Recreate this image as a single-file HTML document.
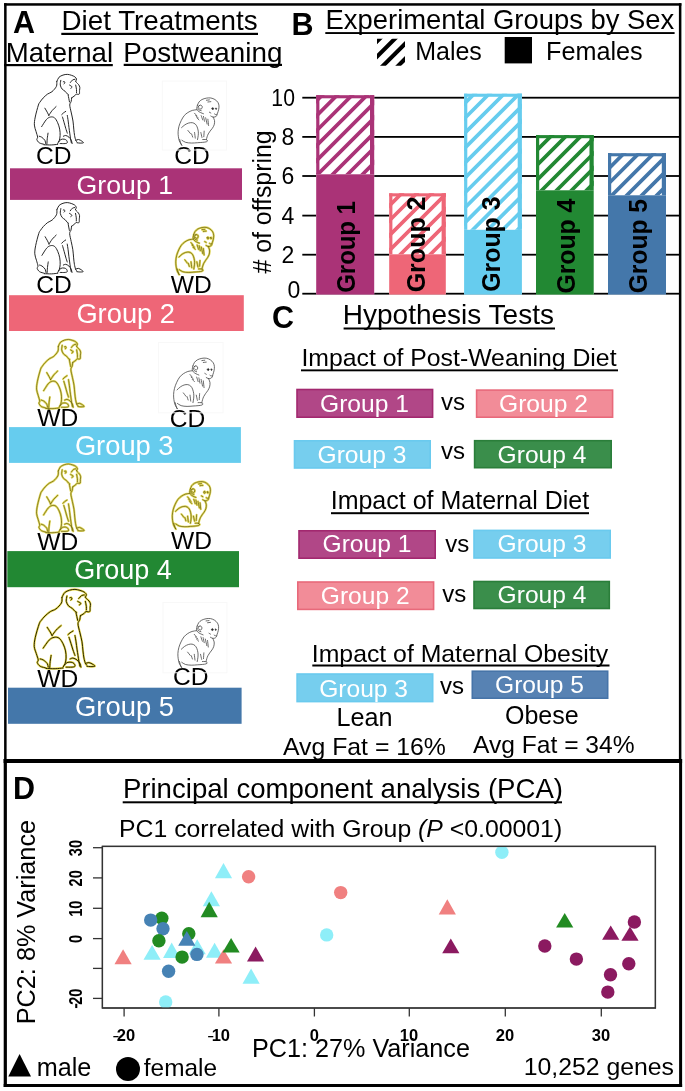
<!DOCTYPE html>
<html><head><meta charset="utf-8"><title>Figure</title><style>
html,body{margin:0;padding:0;background:#fff;}
svg{display:block;}
.mk{stroke:#1a1a1a;stroke-width:0.95;}
.mj{stroke:#3a3a3a;stroke-width:0.75;}
.myh{stroke:#E4DA5E;stroke-width:2.2;}
.my{stroke:#4E4600;stroke-width:0.6;}
.my2h{stroke:#E8DA50;stroke-width:2.2;}
.my2{stroke:#2A2400;stroke-width:1.0;}
</style></head>
<body><svg width="685" height="1091" viewBox="0 0 685 1091" style="will-change:transform">
<rect width="685" height="1091" fill="#fff"/>

<rect x="4.10" y="3.20" width="677.30" height="2.50" fill="#000" />
<rect x="4.10" y="3.20" width="2.50" height="757.80" fill="#000" />
<rect x="678.90" y="3.20" width="2.50" height="757.80" fill="#000" />
<rect x="3.60" y="759.00" width="678.50" height="4.00" fill="#000" />
<rect x="3.70" y="759.00" width="3.20" height="328.00" fill="#000" />
<rect x="679.10" y="759.00" width="3.00" height="328.00" fill="#000" />
<rect x="3.70" y="1084.00" width="678.40" height="3.00" fill="#000" />
<text x="13.00" y="32.50" font-family="Liberation Sans" font-weight="bold" font-style="normal" font-size="30.5" fill="#000" >A</text>
<text x="61.50" y="29.60" font-family="Liberation Sans" font-weight="normal" font-style="normal" font-size="27.8" fill="#000" >Diet Treatments</text>
<rect x="61.30" y="32.80" width="196.70" height="2.20" fill="#000" />
<text x="5.70" y="62.00" font-family="Liberation Sans" font-weight="normal" font-style="normal" font-size="27.6" fill="#000" >Maternal</text>
<rect x="4.10" y="64.00" width="108.70" height="2.20" fill="#000" />
<text x="123.20" y="62.00" font-family="Liberation Sans" font-weight="normal" font-style="normal" font-size="27.8" fill="#000" >Postweaning</text>
<rect x="123.70" y="63.80" width="158.30" height="2.20" fill="#000" />
<text x="36.00" y="163.70" font-family="Liberation Sans" font-weight="normal" font-style="normal" font-size="24.6" fill="#000" >CD</text>
<text x="174.20" y="164.00" font-family="Liberation Sans" font-weight="normal" font-style="normal" font-size="24.6" fill="#000" >CD</text>
<text x="36.20" y="293.00" font-family="Liberation Sans" font-weight="normal" font-style="normal" font-size="24.6" fill="#000" >CD</text>
<text x="170.80" y="292.50" font-family="Liberation Sans" font-weight="normal" font-style="normal" font-size="24.6" fill="#000" >WD</text>
<text x="37.20" y="426.00" font-family="Liberation Sans" font-weight="normal" font-style="normal" font-size="24.6" fill="#000" >WD</text>
<text x="169.80" y="426.50" font-family="Liberation Sans" font-weight="normal" font-style="normal" font-size="24.6" fill="#000" >CD</text>
<text x="37.20" y="550.00" font-family="Liberation Sans" font-weight="normal" font-style="normal" font-size="24.6" fill="#000" >WD</text>
<text x="171.00" y="548.50" font-family="Liberation Sans" font-weight="normal" font-style="normal" font-size="24.6" fill="#000" >WD</text>
<text x="37.20" y="687.00" font-family="Liberation Sans" font-weight="normal" font-style="normal" font-size="24.6" fill="#000" >WD</text>
<text x="173.00" y="685.30" font-family="Liberation Sans" font-weight="normal" font-style="normal" font-size="24.6" fill="#000" >CD</text>
<rect x="10.00" y="168.30" width="232.00" height="31.60" fill="#AA3377" />
<text x="76.60" y="194.20" font-family="Liberation Sans" font-weight="normal" font-style="normal" font-size="26.7" fill="#fff" >Group 1</text>
<rect x="9.00" y="295.20" width="234.80" height="35.80" fill="#EE6677" />
<text x="76.40" y="323.40" font-family="Liberation Sans" font-weight="normal" font-style="normal" font-size="27.3" fill="#fff" >Group 2</text>
<rect x="9.00" y="427.10" width="231.90" height="35.80" fill="#66CCEE" />
<text x="74.90" y="454.90" font-family="Liberation Sans" font-weight="normal" font-style="normal" font-size="27.3" fill="#fff" >Group 3</text>
<rect x="7.30" y="551.10" width="231.70" height="36.10" fill="#228833" />
<text x="74.20" y="579.00" font-family="Liberation Sans" font-weight="normal" font-style="normal" font-size="27.0" fill="#fff" >Group 4</text>
<rect x="8.00" y="687.70" width="233.60" height="36.10" fill="#4477AA" />
<text x="75.00" y="715.50" font-family="Liberation Sans" font-weight="normal" font-style="normal" font-size="27.4" fill="#fff" >Group 5</text>
<rect x="162.3" y="81.1" width="64.29999999999998" height="68.9" fill="none" stroke="#f8f8f8" stroke-width="1"/>
<rect x="158.5" y="342.5" width="64.5" height="70.30000000000001" fill="none" stroke="#f8f8f8" stroke-width="1"/>
<rect x="163" y="602.5" width="63.900000000000006" height="70.29999999999995" fill="none" stroke="#f8f8f8" stroke-width="1"/>
<g transform="translate(30.00,70.00) scale(0.08756,0.08756)" fill="none" stroke-linecap="round" stroke-linejoin="round"><path d="M306.0,132.0C310.2,123.8 319.2,95.3 331.0,83.0C342.8,70.7 361.2,63.5 377.0,58.0C392.8,52.5 410.2,49.7 426.0,50.0C441.8,50.3 457.7,55.3 472.0,60.0C486.3,64.7 502.2,70.8 512.0,78.0C521.8,85.2 529.3,94.7 531.0,103.0C532.7,111.3 523.5,123.8 522.0,128.0M522.0,128.0C523.5,130.5 525.3,136.3 531.0,143.0C536.7,149.7 549.7,158.8 556.0,168.0C562.3,177.2 567.3,187.2 569.0,198.0C570.7,208.8 566.8,220.5 566.0,233.0C565.2,245.5 567.3,265.5 564.0,273.0C560.7,280.5 552.2,277.7 546.0,278.0C539.8,278.3 532.7,272.5 527.0,275.0C521.3,277.5 518.0,287.5 512.0,293.0C506.0,298.5 497.0,303.8 491.0,308.0C485.0,312.2 478.5,316.3 476.0,318.0M352.0,118.0C351.0,127.0 343.5,155.3 346.0,172.0C348.5,188.7 357.8,206.2 367.0,218.0C376.2,229.8 391.2,233.8 401.0,243.0C410.8,252.2 419.3,266.3 426.0,273.0C432.7,279.7 438.5,281.3 441.0,283.0M380.0,135.0C382.0,134.5 389.0,129.8 392.0,132.0C395.0,134.2 398.7,143.7 398.0,148.0C397.3,152.3 389.7,156.3 388.0,158.0M461.0,143.0C465.3,138.0 478.5,119.0 487.0,113.0C495.5,107.0 507.8,108.0 512.0,107.0M451.0,172.0C456.0,175.5 478.5,187.0 481.0,193.0C483.5,199.0 468.5,205.5 466.0,208.0M522.0,172.0C523.5,180.5 529.5,208.7 531.0,223.0C532.5,237.3 531.0,252.2 531.0,258.0M436.0,288.0C438.5,300.8 448.5,352.2 451.0,365.0M306.0,132.0C305.2,141.3 310.2,168.7 301.0,188.0C291.8,207.3 267.8,233.5 251.0,248.0C234.2,262.5 216.8,263.0 200.0,275.0C183.2,287.0 164.2,305.0 150.0,320.0C135.8,335.0 124.0,351.7 115.0,365.0C106.0,378.3 105.2,371.3 96.0,400.0C86.8,428.7 67.7,498.8 60.0,537.0C52.3,575.2 48.5,601.5 50.0,629.0C51.5,656.5 62.8,679.0 69.0,702.0C75.2,725.0 85.5,751.7 87.0,767.0C88.5,782.3 75.0,783.3 78.0,794.0C81.0,804.7 91.3,821.8 105.0,831.0C118.7,840.2 150.8,846.0 160.0,849.0M105.0,757.0C109.7,758.7 122.2,759.3 133.0,767.0C143.8,774.7 162.3,790.8 170.0,803.0C177.7,815.2 177.5,833.8 179.0,840.0M133.0,647.0C142.2,633.3 171.2,583.3 188.0,565.0C204.8,546.7 218.7,540.2 234.0,537.0C249.3,533.8 266.3,535.2 280.0,546.0C293.7,556.8 306.2,580.5 316.0,602.0C325.8,623.5 334.3,650.7 339.0,675.0C343.7,699.3 344.7,726.7 344.0,748.0C343.3,769.3 339.7,787.7 335.0,803.0C330.3,818.3 319.2,833.8 316.0,840.0M206.0,721.0C204.5,731.7 199.2,763.7 197.0,785.0C194.8,806.3 193.7,838.3 193.0,849.0M160.0,854.0C173.8,854.3 217.0,856.8 243.0,856.0C269.0,855.2 303.8,850.2 316.0,849.0M326.0,822.0C330.5,817.3 342.3,799.3 353.0,794.0C363.7,788.7 379.3,788.5 390.0,790.0C400.7,791.5 411.0,796.2 417.0,803.0C423.0,809.8 429.0,824.8 426.0,831.0C423.0,837.2 412.7,838.5 399.0,840.0C385.3,841.5 353.2,840.0 344.0,840.0M381.0,757.0C385.5,755.5 397.3,746.3 408.0,748.0C418.7,749.7 434.3,757.8 445.0,767.0C455.7,776.2 466.0,790.8 472.0,803.0C478.0,815.2 479.5,833.8 481.0,840.0M476.0,318.0C475.0,325.0 473.7,346.3 470.0,360.0C466.3,373.7 453.7,378.2 454.0,400.0C454.3,421.8 465.8,460.5 472.0,491.0C478.2,521.5 486.3,552.3 491.0,583.0C495.7,613.7 497.0,647.5 500.0,675.0C503.0,702.5 505.2,726.7 509.0,748.0C512.8,769.3 518.3,790.7 523.0,803.0C527.7,815.3 534.7,818.8 537.0,822.0M523.0,803.0C528.3,801.5 543.5,792.5 555.0,794.0C566.5,795.5 582.8,805.8 592.0,812.0C601.2,818.2 613.2,827.2 610.0,831.0C606.8,834.8 585.2,835.0 573.0,835.0C560.8,835.0 543.0,831.7 537.0,831.0M426.0,519.0C427.7,529.7 432.8,560.0 436.0,583.0C439.2,606.0 442.0,634.0 445.0,657.0C448.0,680.0 451.0,699.7 454.0,721.0C457.0,742.3 460.0,766.7 463.0,785.0C466.0,803.3 470.5,823.3 472.0,831.0M362.0,510.0C365.2,506.8 373.3,497.2 381.0,491.0C388.7,484.8 403.5,476.0 408.0,473.0M371.0,537.0C374.2,547.8 383.8,580.5 390.0,602.0C396.2,623.5 402.0,646.2 408.0,666.0C414.0,685.8 423.0,711.8 426.0,721.0M170.0,436.0C174.5,443.7 189.5,468.2 197.0,482.0C204.5,495.8 212.0,512.8 215.0,519.0M215.0,519.0C221.2,509.8 238.2,480.8 252.0,464.0C265.8,447.2 290.3,425.7 298.0,418.0" class="mk" vector-effect="non-scaling-stroke"/></g>
<g transform="translate(30.47,198.16) scale(0.08630,0.08844)" fill="none" stroke-linecap="round" stroke-linejoin="round"><path d="M306.0,132.0C310.2,123.8 319.2,95.3 331.0,83.0C342.8,70.7 361.2,63.5 377.0,58.0C392.8,52.5 410.2,49.7 426.0,50.0C441.8,50.3 457.7,55.3 472.0,60.0C486.3,64.7 502.2,70.8 512.0,78.0C521.8,85.2 529.3,94.7 531.0,103.0C532.7,111.3 523.5,123.8 522.0,128.0M522.0,128.0C523.5,130.5 525.3,136.3 531.0,143.0C536.7,149.7 549.7,158.8 556.0,168.0C562.3,177.2 567.3,187.2 569.0,198.0C570.7,208.8 566.8,220.5 566.0,233.0C565.2,245.5 567.3,265.5 564.0,273.0C560.7,280.5 552.2,277.7 546.0,278.0C539.8,278.3 532.7,272.5 527.0,275.0C521.3,277.5 518.0,287.5 512.0,293.0C506.0,298.5 497.0,303.8 491.0,308.0C485.0,312.2 478.5,316.3 476.0,318.0M352.0,118.0C351.0,127.0 343.5,155.3 346.0,172.0C348.5,188.7 357.8,206.2 367.0,218.0C376.2,229.8 391.2,233.8 401.0,243.0C410.8,252.2 419.3,266.3 426.0,273.0C432.7,279.7 438.5,281.3 441.0,283.0M380.0,135.0C382.0,134.5 389.0,129.8 392.0,132.0C395.0,134.2 398.7,143.7 398.0,148.0C397.3,152.3 389.7,156.3 388.0,158.0M461.0,143.0C465.3,138.0 478.5,119.0 487.0,113.0C495.5,107.0 507.8,108.0 512.0,107.0M451.0,172.0C456.0,175.5 478.5,187.0 481.0,193.0C483.5,199.0 468.5,205.5 466.0,208.0M522.0,172.0C523.5,180.5 529.5,208.7 531.0,223.0C532.5,237.3 531.0,252.2 531.0,258.0M436.0,288.0C438.5,300.8 448.5,352.2 451.0,365.0M306.0,132.0C305.2,141.3 310.2,168.7 301.0,188.0C291.8,207.3 267.8,233.5 251.0,248.0C234.2,262.5 216.8,263.0 200.0,275.0C183.2,287.0 164.2,305.0 150.0,320.0C135.8,335.0 124.0,351.7 115.0,365.0C106.0,378.3 105.2,371.3 96.0,400.0C86.8,428.7 67.7,498.8 60.0,537.0C52.3,575.2 48.5,601.5 50.0,629.0C51.5,656.5 62.8,679.0 69.0,702.0C75.2,725.0 85.5,751.7 87.0,767.0C88.5,782.3 75.0,783.3 78.0,794.0C81.0,804.7 91.3,821.8 105.0,831.0C118.7,840.2 150.8,846.0 160.0,849.0M105.0,757.0C109.7,758.7 122.2,759.3 133.0,767.0C143.8,774.7 162.3,790.8 170.0,803.0C177.7,815.2 177.5,833.8 179.0,840.0M133.0,647.0C142.2,633.3 171.2,583.3 188.0,565.0C204.8,546.7 218.7,540.2 234.0,537.0C249.3,533.8 266.3,535.2 280.0,546.0C293.7,556.8 306.2,580.5 316.0,602.0C325.8,623.5 334.3,650.7 339.0,675.0C343.7,699.3 344.7,726.7 344.0,748.0C343.3,769.3 339.7,787.7 335.0,803.0C330.3,818.3 319.2,833.8 316.0,840.0M206.0,721.0C204.5,731.7 199.2,763.7 197.0,785.0C194.8,806.3 193.7,838.3 193.0,849.0M160.0,854.0C173.8,854.3 217.0,856.8 243.0,856.0C269.0,855.2 303.8,850.2 316.0,849.0M326.0,822.0C330.5,817.3 342.3,799.3 353.0,794.0C363.7,788.7 379.3,788.5 390.0,790.0C400.7,791.5 411.0,796.2 417.0,803.0C423.0,809.8 429.0,824.8 426.0,831.0C423.0,837.2 412.7,838.5 399.0,840.0C385.3,841.5 353.2,840.0 344.0,840.0M381.0,757.0C385.5,755.5 397.3,746.3 408.0,748.0C418.7,749.7 434.3,757.8 445.0,767.0C455.7,776.2 466.0,790.8 472.0,803.0C478.0,815.2 479.5,833.8 481.0,840.0M476.0,318.0C475.0,325.0 473.7,346.3 470.0,360.0C466.3,373.7 453.7,378.2 454.0,400.0C454.3,421.8 465.8,460.5 472.0,491.0C478.2,521.5 486.3,552.3 491.0,583.0C495.7,613.7 497.0,647.5 500.0,675.0C503.0,702.5 505.2,726.7 509.0,748.0C512.8,769.3 518.3,790.7 523.0,803.0C527.7,815.3 534.7,818.8 537.0,822.0M523.0,803.0C528.3,801.5 543.5,792.5 555.0,794.0C566.5,795.5 582.8,805.8 592.0,812.0C601.2,818.2 613.2,827.2 610.0,831.0C606.8,834.8 585.2,835.0 573.0,835.0C560.8,835.0 543.0,831.7 537.0,831.0M426.0,519.0C427.7,529.7 432.8,560.0 436.0,583.0C439.2,606.0 442.0,634.0 445.0,657.0C448.0,680.0 451.0,699.7 454.0,721.0C457.0,742.3 460.0,766.7 463.0,785.0C466.0,803.3 470.5,823.3 472.0,831.0M362.0,510.0C365.2,506.8 373.3,497.2 381.0,491.0C388.7,484.8 403.5,476.0 408.0,473.0M371.0,537.0C374.2,547.8 383.8,580.5 390.0,602.0C396.2,623.5 402.0,646.2 408.0,666.0C414.0,685.8 423.0,711.8 426.0,721.0M170.0,436.0C174.5,443.7 189.5,468.2 197.0,482.0C204.5,495.8 212.0,512.8 215.0,519.0M215.0,519.0C221.2,509.8 238.2,480.8 252.0,464.0C265.8,447.2 290.3,425.7 298.0,418.0" class="mk" vector-effect="non-scaling-stroke"/></g>
<g transform="translate(32.34,335.19) scale(0.08487,0.08579)" fill="none" stroke-linecap="round" stroke-linejoin="round"><path d="M306.0,132.0C310.2,123.8 319.2,95.3 331.0,83.0C342.8,70.7 361.2,63.5 377.0,58.0C392.8,52.5 410.2,49.7 426.0,50.0C441.8,50.3 457.7,55.3 472.0,60.0C486.3,64.7 502.2,70.8 512.0,78.0C521.8,85.2 529.3,94.7 531.0,103.0C532.7,111.3 523.5,123.8 522.0,128.0M522.0,128.0C523.5,130.5 525.3,136.3 531.0,143.0C536.7,149.7 549.7,158.8 556.0,168.0C562.3,177.2 567.3,187.2 569.0,198.0C570.7,208.8 566.8,220.5 566.0,233.0C565.2,245.5 567.3,265.5 564.0,273.0C560.7,280.5 552.2,277.7 546.0,278.0C539.8,278.3 532.7,272.5 527.0,275.0C521.3,277.5 518.0,287.5 512.0,293.0C506.0,298.5 497.0,303.8 491.0,308.0C485.0,312.2 478.5,316.3 476.0,318.0M352.0,118.0C351.0,127.0 343.5,155.3 346.0,172.0C348.5,188.7 357.8,206.2 367.0,218.0C376.2,229.8 391.2,233.8 401.0,243.0C410.8,252.2 419.3,266.3 426.0,273.0C432.7,279.7 438.5,281.3 441.0,283.0M380.0,135.0C382.0,134.5 389.0,129.8 392.0,132.0C395.0,134.2 398.7,143.7 398.0,148.0C397.3,152.3 389.7,156.3 388.0,158.0M461.0,143.0C465.3,138.0 478.5,119.0 487.0,113.0C495.5,107.0 507.8,108.0 512.0,107.0M451.0,172.0C456.0,175.5 478.5,187.0 481.0,193.0C483.5,199.0 468.5,205.5 466.0,208.0M522.0,172.0C523.5,180.5 529.5,208.7 531.0,223.0C532.5,237.3 531.0,252.2 531.0,258.0M436.0,288.0C438.5,300.8 448.5,352.2 451.0,365.0M306.0,132.0C305.2,141.3 310.2,168.7 301.0,188.0C291.8,207.3 267.8,233.5 251.0,248.0C234.2,262.5 216.8,263.0 200.0,275.0C183.2,287.0 164.2,305.0 150.0,320.0C135.8,335.0 124.0,351.7 115.0,365.0C106.0,378.3 105.2,371.3 96.0,400.0C86.8,428.7 67.7,498.8 60.0,537.0C52.3,575.2 48.5,601.5 50.0,629.0C51.5,656.5 62.8,679.0 69.0,702.0C75.2,725.0 85.5,751.7 87.0,767.0C88.5,782.3 75.0,783.3 78.0,794.0C81.0,804.7 91.3,821.8 105.0,831.0C118.7,840.2 150.8,846.0 160.0,849.0M105.0,757.0C109.7,758.7 122.2,759.3 133.0,767.0C143.8,774.7 162.3,790.8 170.0,803.0C177.7,815.2 177.5,833.8 179.0,840.0M133.0,647.0C142.2,633.3 171.2,583.3 188.0,565.0C204.8,546.7 218.7,540.2 234.0,537.0C249.3,533.8 266.3,535.2 280.0,546.0C293.7,556.8 306.2,580.5 316.0,602.0C325.8,623.5 334.3,650.7 339.0,675.0C343.7,699.3 344.7,726.7 344.0,748.0C343.3,769.3 339.7,787.7 335.0,803.0C330.3,818.3 319.2,833.8 316.0,840.0M206.0,721.0C204.5,731.7 199.2,763.7 197.0,785.0C194.8,806.3 193.7,838.3 193.0,849.0M160.0,854.0C173.8,854.3 217.0,856.8 243.0,856.0C269.0,855.2 303.8,850.2 316.0,849.0M326.0,822.0C330.5,817.3 342.3,799.3 353.0,794.0C363.7,788.7 379.3,788.5 390.0,790.0C400.7,791.5 411.0,796.2 417.0,803.0C423.0,809.8 429.0,824.8 426.0,831.0C423.0,837.2 412.7,838.5 399.0,840.0C385.3,841.5 353.2,840.0 344.0,840.0M381.0,757.0C385.5,755.5 397.3,746.3 408.0,748.0C418.7,749.7 434.3,757.8 445.0,767.0C455.7,776.2 466.0,790.8 472.0,803.0C478.0,815.2 479.5,833.8 481.0,840.0M476.0,318.0C475.0,325.0 473.7,346.3 470.0,360.0C466.3,373.7 453.7,378.2 454.0,400.0C454.3,421.8 465.8,460.5 472.0,491.0C478.2,521.5 486.3,552.3 491.0,583.0C495.7,613.7 497.0,647.5 500.0,675.0C503.0,702.5 505.2,726.7 509.0,748.0C512.8,769.3 518.3,790.7 523.0,803.0C527.7,815.3 534.7,818.8 537.0,822.0M523.0,803.0C528.3,801.5 543.5,792.5 555.0,794.0C566.5,795.5 582.8,805.8 592.0,812.0C601.2,818.2 613.2,827.2 610.0,831.0C606.8,834.8 585.2,835.0 573.0,835.0C560.8,835.0 543.0,831.7 537.0,831.0M426.0,519.0C427.7,529.7 432.8,560.0 436.0,583.0C439.2,606.0 442.0,634.0 445.0,657.0C448.0,680.0 451.0,699.7 454.0,721.0C457.0,742.3 460.0,766.7 463.0,785.0C466.0,803.3 470.5,823.3 472.0,831.0M362.0,510.0C365.2,506.8 373.3,497.2 381.0,491.0C388.7,484.8 403.5,476.0 408.0,473.0M371.0,537.0C374.2,547.8 383.8,580.5 390.0,602.0C396.2,623.5 402.0,646.2 408.0,666.0C414.0,685.8 423.0,711.8 426.0,721.0M170.0,436.0C174.5,443.7 189.5,468.2 197.0,482.0C204.5,495.8 212.0,512.8 215.0,519.0M215.0,519.0C221.2,509.8 238.2,480.8 252.0,464.0C265.8,447.2 290.3,425.7 298.0,418.0" class="myh" vector-effect="non-scaling-stroke"/><path d="M306.0,132.0C310.2,123.8 319.2,95.3 331.0,83.0C342.8,70.7 361.2,63.5 377.0,58.0C392.8,52.5 410.2,49.7 426.0,50.0C441.8,50.3 457.7,55.3 472.0,60.0C486.3,64.7 502.2,70.8 512.0,78.0C521.8,85.2 529.3,94.7 531.0,103.0C532.7,111.3 523.5,123.8 522.0,128.0M522.0,128.0C523.5,130.5 525.3,136.3 531.0,143.0C536.7,149.7 549.7,158.8 556.0,168.0C562.3,177.2 567.3,187.2 569.0,198.0C570.7,208.8 566.8,220.5 566.0,233.0C565.2,245.5 567.3,265.5 564.0,273.0C560.7,280.5 552.2,277.7 546.0,278.0C539.8,278.3 532.7,272.5 527.0,275.0C521.3,277.5 518.0,287.5 512.0,293.0C506.0,298.5 497.0,303.8 491.0,308.0C485.0,312.2 478.5,316.3 476.0,318.0M352.0,118.0C351.0,127.0 343.5,155.3 346.0,172.0C348.5,188.7 357.8,206.2 367.0,218.0C376.2,229.8 391.2,233.8 401.0,243.0C410.8,252.2 419.3,266.3 426.0,273.0C432.7,279.7 438.5,281.3 441.0,283.0M380.0,135.0C382.0,134.5 389.0,129.8 392.0,132.0C395.0,134.2 398.7,143.7 398.0,148.0C397.3,152.3 389.7,156.3 388.0,158.0M461.0,143.0C465.3,138.0 478.5,119.0 487.0,113.0C495.5,107.0 507.8,108.0 512.0,107.0M451.0,172.0C456.0,175.5 478.5,187.0 481.0,193.0C483.5,199.0 468.5,205.5 466.0,208.0M522.0,172.0C523.5,180.5 529.5,208.7 531.0,223.0C532.5,237.3 531.0,252.2 531.0,258.0M436.0,288.0C438.5,300.8 448.5,352.2 451.0,365.0M306.0,132.0C305.2,141.3 310.2,168.7 301.0,188.0C291.8,207.3 267.8,233.5 251.0,248.0C234.2,262.5 216.8,263.0 200.0,275.0C183.2,287.0 164.2,305.0 150.0,320.0C135.8,335.0 124.0,351.7 115.0,365.0C106.0,378.3 105.2,371.3 96.0,400.0C86.8,428.7 67.7,498.8 60.0,537.0C52.3,575.2 48.5,601.5 50.0,629.0C51.5,656.5 62.8,679.0 69.0,702.0C75.2,725.0 85.5,751.7 87.0,767.0C88.5,782.3 75.0,783.3 78.0,794.0C81.0,804.7 91.3,821.8 105.0,831.0C118.7,840.2 150.8,846.0 160.0,849.0M105.0,757.0C109.7,758.7 122.2,759.3 133.0,767.0C143.8,774.7 162.3,790.8 170.0,803.0C177.7,815.2 177.5,833.8 179.0,840.0M133.0,647.0C142.2,633.3 171.2,583.3 188.0,565.0C204.8,546.7 218.7,540.2 234.0,537.0C249.3,533.8 266.3,535.2 280.0,546.0C293.7,556.8 306.2,580.5 316.0,602.0C325.8,623.5 334.3,650.7 339.0,675.0C343.7,699.3 344.7,726.7 344.0,748.0C343.3,769.3 339.7,787.7 335.0,803.0C330.3,818.3 319.2,833.8 316.0,840.0M206.0,721.0C204.5,731.7 199.2,763.7 197.0,785.0C194.8,806.3 193.7,838.3 193.0,849.0M160.0,854.0C173.8,854.3 217.0,856.8 243.0,856.0C269.0,855.2 303.8,850.2 316.0,849.0M326.0,822.0C330.5,817.3 342.3,799.3 353.0,794.0C363.7,788.7 379.3,788.5 390.0,790.0C400.7,791.5 411.0,796.2 417.0,803.0C423.0,809.8 429.0,824.8 426.0,831.0C423.0,837.2 412.7,838.5 399.0,840.0C385.3,841.5 353.2,840.0 344.0,840.0M381.0,757.0C385.5,755.5 397.3,746.3 408.0,748.0C418.7,749.7 434.3,757.8 445.0,767.0C455.7,776.2 466.0,790.8 472.0,803.0C478.0,815.2 479.5,833.8 481.0,840.0M476.0,318.0C475.0,325.0 473.7,346.3 470.0,360.0C466.3,373.7 453.7,378.2 454.0,400.0C454.3,421.8 465.8,460.5 472.0,491.0C478.2,521.5 486.3,552.3 491.0,583.0C495.7,613.7 497.0,647.5 500.0,675.0C503.0,702.5 505.2,726.7 509.0,748.0C512.8,769.3 518.3,790.7 523.0,803.0C527.7,815.3 534.7,818.8 537.0,822.0M523.0,803.0C528.3,801.5 543.5,792.5 555.0,794.0C566.5,795.5 582.8,805.8 592.0,812.0C601.2,818.2 613.2,827.2 610.0,831.0C606.8,834.8 585.2,835.0 573.0,835.0C560.8,835.0 543.0,831.7 537.0,831.0M426.0,519.0C427.7,529.7 432.8,560.0 436.0,583.0C439.2,606.0 442.0,634.0 445.0,657.0C448.0,680.0 451.0,699.7 454.0,721.0C457.0,742.3 460.0,766.7 463.0,785.0C466.0,803.3 470.5,823.3 472.0,831.0M362.0,510.0C365.2,506.8 373.3,497.2 381.0,491.0C388.7,484.8 403.5,476.0 408.0,473.0M371.0,537.0C374.2,547.8 383.8,580.5 390.0,602.0C396.2,623.5 402.0,646.2 408.0,666.0C414.0,685.8 423.0,711.8 426.0,721.0M170.0,436.0C174.5,443.7 189.5,468.2 197.0,482.0C204.5,495.8 212.0,512.8 215.0,519.0M215.0,519.0C221.2,509.8 238.2,480.8 252.0,464.0C265.8,447.2 290.3,425.7 298.0,418.0" class="my" vector-effect="non-scaling-stroke"/></g>
<g transform="translate(32.34,459.72) scale(0.08487,0.08528)" fill="none" stroke-linecap="round" stroke-linejoin="round"><path d="M306.0,132.0C310.2,123.8 319.2,95.3 331.0,83.0C342.8,70.7 361.2,63.5 377.0,58.0C392.8,52.5 410.2,49.7 426.0,50.0C441.8,50.3 457.7,55.3 472.0,60.0C486.3,64.7 502.2,70.8 512.0,78.0C521.8,85.2 529.3,94.7 531.0,103.0C532.7,111.3 523.5,123.8 522.0,128.0M522.0,128.0C523.5,130.5 525.3,136.3 531.0,143.0C536.7,149.7 549.7,158.8 556.0,168.0C562.3,177.2 567.3,187.2 569.0,198.0C570.7,208.8 566.8,220.5 566.0,233.0C565.2,245.5 567.3,265.5 564.0,273.0C560.7,280.5 552.2,277.7 546.0,278.0C539.8,278.3 532.7,272.5 527.0,275.0C521.3,277.5 518.0,287.5 512.0,293.0C506.0,298.5 497.0,303.8 491.0,308.0C485.0,312.2 478.5,316.3 476.0,318.0M352.0,118.0C351.0,127.0 343.5,155.3 346.0,172.0C348.5,188.7 357.8,206.2 367.0,218.0C376.2,229.8 391.2,233.8 401.0,243.0C410.8,252.2 419.3,266.3 426.0,273.0C432.7,279.7 438.5,281.3 441.0,283.0M380.0,135.0C382.0,134.5 389.0,129.8 392.0,132.0C395.0,134.2 398.7,143.7 398.0,148.0C397.3,152.3 389.7,156.3 388.0,158.0M461.0,143.0C465.3,138.0 478.5,119.0 487.0,113.0C495.5,107.0 507.8,108.0 512.0,107.0M451.0,172.0C456.0,175.5 478.5,187.0 481.0,193.0C483.5,199.0 468.5,205.5 466.0,208.0M522.0,172.0C523.5,180.5 529.5,208.7 531.0,223.0C532.5,237.3 531.0,252.2 531.0,258.0M436.0,288.0C438.5,300.8 448.5,352.2 451.0,365.0M306.0,132.0C305.2,141.3 310.2,168.7 301.0,188.0C291.8,207.3 267.8,233.5 251.0,248.0C234.2,262.5 216.8,263.0 200.0,275.0C183.2,287.0 164.2,305.0 150.0,320.0C135.8,335.0 124.0,351.7 115.0,365.0C106.0,378.3 105.2,371.3 96.0,400.0C86.8,428.7 67.7,498.8 60.0,537.0C52.3,575.2 48.5,601.5 50.0,629.0C51.5,656.5 62.8,679.0 69.0,702.0C75.2,725.0 85.5,751.7 87.0,767.0C88.5,782.3 75.0,783.3 78.0,794.0C81.0,804.7 91.3,821.8 105.0,831.0C118.7,840.2 150.8,846.0 160.0,849.0M105.0,757.0C109.7,758.7 122.2,759.3 133.0,767.0C143.8,774.7 162.3,790.8 170.0,803.0C177.7,815.2 177.5,833.8 179.0,840.0M133.0,647.0C142.2,633.3 171.2,583.3 188.0,565.0C204.8,546.7 218.7,540.2 234.0,537.0C249.3,533.8 266.3,535.2 280.0,546.0C293.7,556.8 306.2,580.5 316.0,602.0C325.8,623.5 334.3,650.7 339.0,675.0C343.7,699.3 344.7,726.7 344.0,748.0C343.3,769.3 339.7,787.7 335.0,803.0C330.3,818.3 319.2,833.8 316.0,840.0M206.0,721.0C204.5,731.7 199.2,763.7 197.0,785.0C194.8,806.3 193.7,838.3 193.0,849.0M160.0,854.0C173.8,854.3 217.0,856.8 243.0,856.0C269.0,855.2 303.8,850.2 316.0,849.0M326.0,822.0C330.5,817.3 342.3,799.3 353.0,794.0C363.7,788.7 379.3,788.5 390.0,790.0C400.7,791.5 411.0,796.2 417.0,803.0C423.0,809.8 429.0,824.8 426.0,831.0C423.0,837.2 412.7,838.5 399.0,840.0C385.3,841.5 353.2,840.0 344.0,840.0M381.0,757.0C385.5,755.5 397.3,746.3 408.0,748.0C418.7,749.7 434.3,757.8 445.0,767.0C455.7,776.2 466.0,790.8 472.0,803.0C478.0,815.2 479.5,833.8 481.0,840.0M476.0,318.0C475.0,325.0 473.7,346.3 470.0,360.0C466.3,373.7 453.7,378.2 454.0,400.0C454.3,421.8 465.8,460.5 472.0,491.0C478.2,521.5 486.3,552.3 491.0,583.0C495.7,613.7 497.0,647.5 500.0,675.0C503.0,702.5 505.2,726.7 509.0,748.0C512.8,769.3 518.3,790.7 523.0,803.0C527.7,815.3 534.7,818.8 537.0,822.0M523.0,803.0C528.3,801.5 543.5,792.5 555.0,794.0C566.5,795.5 582.8,805.8 592.0,812.0C601.2,818.2 613.2,827.2 610.0,831.0C606.8,834.8 585.2,835.0 573.0,835.0C560.8,835.0 543.0,831.7 537.0,831.0M426.0,519.0C427.7,529.7 432.8,560.0 436.0,583.0C439.2,606.0 442.0,634.0 445.0,657.0C448.0,680.0 451.0,699.7 454.0,721.0C457.0,742.3 460.0,766.7 463.0,785.0C466.0,803.3 470.5,823.3 472.0,831.0M362.0,510.0C365.2,506.8 373.3,497.2 381.0,491.0C388.7,484.8 403.5,476.0 408.0,473.0M371.0,537.0C374.2,547.8 383.8,580.5 390.0,602.0C396.2,623.5 402.0,646.2 408.0,666.0C414.0,685.8 423.0,711.8 426.0,721.0M170.0,436.0C174.5,443.7 189.5,468.2 197.0,482.0C204.5,495.8 212.0,512.8 215.0,519.0M215.0,519.0C221.2,509.8 238.2,480.8 252.0,464.0C265.8,447.2 290.3,425.7 298.0,418.0" class="myh" vector-effect="non-scaling-stroke"/><path d="M306.0,132.0C310.2,123.8 319.2,95.3 331.0,83.0C342.8,70.7 361.2,63.5 377.0,58.0C392.8,52.5 410.2,49.7 426.0,50.0C441.8,50.3 457.7,55.3 472.0,60.0C486.3,64.7 502.2,70.8 512.0,78.0C521.8,85.2 529.3,94.7 531.0,103.0C532.7,111.3 523.5,123.8 522.0,128.0M522.0,128.0C523.5,130.5 525.3,136.3 531.0,143.0C536.7,149.7 549.7,158.8 556.0,168.0C562.3,177.2 567.3,187.2 569.0,198.0C570.7,208.8 566.8,220.5 566.0,233.0C565.2,245.5 567.3,265.5 564.0,273.0C560.7,280.5 552.2,277.7 546.0,278.0C539.8,278.3 532.7,272.5 527.0,275.0C521.3,277.5 518.0,287.5 512.0,293.0C506.0,298.5 497.0,303.8 491.0,308.0C485.0,312.2 478.5,316.3 476.0,318.0M352.0,118.0C351.0,127.0 343.5,155.3 346.0,172.0C348.5,188.7 357.8,206.2 367.0,218.0C376.2,229.8 391.2,233.8 401.0,243.0C410.8,252.2 419.3,266.3 426.0,273.0C432.7,279.7 438.5,281.3 441.0,283.0M380.0,135.0C382.0,134.5 389.0,129.8 392.0,132.0C395.0,134.2 398.7,143.7 398.0,148.0C397.3,152.3 389.7,156.3 388.0,158.0M461.0,143.0C465.3,138.0 478.5,119.0 487.0,113.0C495.5,107.0 507.8,108.0 512.0,107.0M451.0,172.0C456.0,175.5 478.5,187.0 481.0,193.0C483.5,199.0 468.5,205.5 466.0,208.0M522.0,172.0C523.5,180.5 529.5,208.7 531.0,223.0C532.5,237.3 531.0,252.2 531.0,258.0M436.0,288.0C438.5,300.8 448.5,352.2 451.0,365.0M306.0,132.0C305.2,141.3 310.2,168.7 301.0,188.0C291.8,207.3 267.8,233.5 251.0,248.0C234.2,262.5 216.8,263.0 200.0,275.0C183.2,287.0 164.2,305.0 150.0,320.0C135.8,335.0 124.0,351.7 115.0,365.0C106.0,378.3 105.2,371.3 96.0,400.0C86.8,428.7 67.7,498.8 60.0,537.0C52.3,575.2 48.5,601.5 50.0,629.0C51.5,656.5 62.8,679.0 69.0,702.0C75.2,725.0 85.5,751.7 87.0,767.0C88.5,782.3 75.0,783.3 78.0,794.0C81.0,804.7 91.3,821.8 105.0,831.0C118.7,840.2 150.8,846.0 160.0,849.0M105.0,757.0C109.7,758.7 122.2,759.3 133.0,767.0C143.8,774.7 162.3,790.8 170.0,803.0C177.7,815.2 177.5,833.8 179.0,840.0M133.0,647.0C142.2,633.3 171.2,583.3 188.0,565.0C204.8,546.7 218.7,540.2 234.0,537.0C249.3,533.8 266.3,535.2 280.0,546.0C293.7,556.8 306.2,580.5 316.0,602.0C325.8,623.5 334.3,650.7 339.0,675.0C343.7,699.3 344.7,726.7 344.0,748.0C343.3,769.3 339.7,787.7 335.0,803.0C330.3,818.3 319.2,833.8 316.0,840.0M206.0,721.0C204.5,731.7 199.2,763.7 197.0,785.0C194.8,806.3 193.7,838.3 193.0,849.0M160.0,854.0C173.8,854.3 217.0,856.8 243.0,856.0C269.0,855.2 303.8,850.2 316.0,849.0M326.0,822.0C330.5,817.3 342.3,799.3 353.0,794.0C363.7,788.7 379.3,788.5 390.0,790.0C400.7,791.5 411.0,796.2 417.0,803.0C423.0,809.8 429.0,824.8 426.0,831.0C423.0,837.2 412.7,838.5 399.0,840.0C385.3,841.5 353.2,840.0 344.0,840.0M381.0,757.0C385.5,755.5 397.3,746.3 408.0,748.0C418.7,749.7 434.3,757.8 445.0,767.0C455.7,776.2 466.0,790.8 472.0,803.0C478.0,815.2 479.5,833.8 481.0,840.0M476.0,318.0C475.0,325.0 473.7,346.3 470.0,360.0C466.3,373.7 453.7,378.2 454.0,400.0C454.3,421.8 465.8,460.5 472.0,491.0C478.2,521.5 486.3,552.3 491.0,583.0C495.7,613.7 497.0,647.5 500.0,675.0C503.0,702.5 505.2,726.7 509.0,748.0C512.8,769.3 518.3,790.7 523.0,803.0C527.7,815.3 534.7,818.8 537.0,822.0M523.0,803.0C528.3,801.5 543.5,792.5 555.0,794.0C566.5,795.5 582.8,805.8 592.0,812.0C601.2,818.2 613.2,827.2 610.0,831.0C606.8,834.8 585.2,835.0 573.0,835.0C560.8,835.0 543.0,831.7 537.0,831.0M426.0,519.0C427.7,529.7 432.8,560.0 436.0,583.0C439.2,606.0 442.0,634.0 445.0,657.0C448.0,680.0 451.0,699.7 454.0,721.0C457.0,742.3 460.0,766.7 463.0,785.0C466.0,803.3 470.5,823.3 472.0,831.0M362.0,510.0C365.2,506.8 373.3,497.2 381.0,491.0C388.7,484.8 403.5,476.0 408.0,473.0M371.0,537.0C374.2,547.8 383.8,580.5 390.0,602.0C396.2,623.5 402.0,646.2 408.0,666.0C414.0,685.8 423.0,711.8 426.0,721.0M170.0,436.0C174.5,443.7 189.5,468.2 197.0,482.0C204.5,495.8 212.0,512.8 215.0,519.0M215.0,519.0C221.2,509.8 238.2,480.8 252.0,464.0C265.8,447.2 290.3,425.7 298.0,418.0" class="my" vector-effect="non-scaling-stroke"/></g>
<g transform="translate(28.81,584.46) scale(0.10833,0.09842)" fill="none" stroke-linecap="round" stroke-linejoin="round"><path d="M306.0,132.0C310.2,123.8 319.2,95.3 331.0,83.0C342.8,70.7 361.2,63.5 377.0,58.0C392.8,52.5 410.2,49.7 426.0,50.0C441.8,50.3 457.7,55.3 472.0,60.0C486.3,64.7 502.2,70.8 512.0,78.0C521.8,85.2 529.3,94.7 531.0,103.0C532.7,111.3 523.5,123.8 522.0,128.0M522.0,128.0C523.5,130.5 525.3,136.3 531.0,143.0C536.7,149.7 549.7,158.8 556.0,168.0C562.3,177.2 567.3,187.2 569.0,198.0C570.7,208.8 566.8,220.5 566.0,233.0C565.2,245.5 567.3,265.5 564.0,273.0C560.7,280.5 552.2,277.7 546.0,278.0C539.8,278.3 532.7,272.5 527.0,275.0C521.3,277.5 518.0,287.5 512.0,293.0C506.0,298.5 497.0,303.8 491.0,308.0C485.0,312.2 478.5,316.3 476.0,318.0M352.0,118.0C351.0,127.0 343.5,155.3 346.0,172.0C348.5,188.7 357.8,206.2 367.0,218.0C376.2,229.8 391.2,233.8 401.0,243.0C410.8,252.2 419.3,266.3 426.0,273.0C432.7,279.7 438.5,281.3 441.0,283.0M380.0,135.0C382.0,134.5 389.0,129.8 392.0,132.0C395.0,134.2 398.7,143.7 398.0,148.0C397.3,152.3 389.7,156.3 388.0,158.0M461.0,143.0C465.3,138.0 478.5,119.0 487.0,113.0C495.5,107.0 507.8,108.0 512.0,107.0M451.0,172.0C456.0,175.5 478.5,187.0 481.0,193.0C483.5,199.0 468.5,205.5 466.0,208.0M522.0,172.0C523.5,180.5 529.5,208.7 531.0,223.0C532.5,237.3 531.0,252.2 531.0,258.0M436.0,288.0C438.5,300.8 448.5,352.2 451.0,365.0M306.0,132.0C305.2,141.3 310.2,168.7 301.0,188.0C291.8,207.3 267.8,233.5 251.0,248.0C234.2,262.5 216.8,263.0 200.0,275.0C183.2,287.0 164.2,305.0 150.0,320.0C135.8,335.0 124.0,351.7 115.0,365.0C106.0,378.3 105.2,371.3 96.0,400.0C86.8,428.7 67.7,498.8 60.0,537.0C52.3,575.2 48.5,601.5 50.0,629.0C51.5,656.5 62.8,679.0 69.0,702.0C75.2,725.0 85.5,751.7 87.0,767.0C88.5,782.3 75.0,783.3 78.0,794.0C81.0,804.7 91.3,821.8 105.0,831.0C118.7,840.2 150.8,846.0 160.0,849.0M105.0,757.0C109.7,758.7 122.2,759.3 133.0,767.0C143.8,774.7 162.3,790.8 170.0,803.0C177.7,815.2 177.5,833.8 179.0,840.0M133.0,647.0C142.2,633.3 171.2,583.3 188.0,565.0C204.8,546.7 218.7,540.2 234.0,537.0C249.3,533.8 266.3,535.2 280.0,546.0C293.7,556.8 306.2,580.5 316.0,602.0C325.8,623.5 334.3,650.7 339.0,675.0C343.7,699.3 344.7,726.7 344.0,748.0C343.3,769.3 339.7,787.7 335.0,803.0C330.3,818.3 319.2,833.8 316.0,840.0M206.0,721.0C204.5,731.7 199.2,763.7 197.0,785.0C194.8,806.3 193.7,838.3 193.0,849.0M160.0,854.0C173.8,854.3 217.0,856.8 243.0,856.0C269.0,855.2 303.8,850.2 316.0,849.0M326.0,822.0C330.5,817.3 342.3,799.3 353.0,794.0C363.7,788.7 379.3,788.5 390.0,790.0C400.7,791.5 411.0,796.2 417.0,803.0C423.0,809.8 429.0,824.8 426.0,831.0C423.0,837.2 412.7,838.5 399.0,840.0C385.3,841.5 353.2,840.0 344.0,840.0M381.0,757.0C385.5,755.5 397.3,746.3 408.0,748.0C418.7,749.7 434.3,757.8 445.0,767.0C455.7,776.2 466.0,790.8 472.0,803.0C478.0,815.2 479.5,833.8 481.0,840.0M476.0,318.0C475.0,325.0 473.7,346.3 470.0,360.0C466.3,373.7 453.7,378.2 454.0,400.0C454.3,421.8 465.8,460.5 472.0,491.0C478.2,521.5 486.3,552.3 491.0,583.0C495.7,613.7 497.0,647.5 500.0,675.0C503.0,702.5 505.2,726.7 509.0,748.0C512.8,769.3 518.3,790.7 523.0,803.0C527.7,815.3 534.7,818.8 537.0,822.0M523.0,803.0C528.3,801.5 543.5,792.5 555.0,794.0C566.5,795.5 582.8,805.8 592.0,812.0C601.2,818.2 613.2,827.2 610.0,831.0C606.8,834.8 585.2,835.0 573.0,835.0C560.8,835.0 543.0,831.7 537.0,831.0M426.0,519.0C427.7,529.7 432.8,560.0 436.0,583.0C439.2,606.0 442.0,634.0 445.0,657.0C448.0,680.0 451.0,699.7 454.0,721.0C457.0,742.3 460.0,766.7 463.0,785.0C466.0,803.3 470.5,823.3 472.0,831.0M362.0,510.0C365.2,506.8 373.3,497.2 381.0,491.0C388.7,484.8 403.5,476.0 408.0,473.0M371.0,537.0C374.2,547.8 383.8,580.5 390.0,602.0C396.2,623.5 402.0,646.2 408.0,666.0C414.0,685.8 423.0,711.8 426.0,721.0M170.0,436.0C174.5,443.7 189.5,468.2 197.0,482.0C204.5,495.8 212.0,512.8 215.0,519.0M215.0,519.0C221.2,509.8 238.2,480.8 252.0,464.0C265.8,447.2 290.3,425.7 298.0,418.0" class="my2h" vector-effect="non-scaling-stroke"/><path d="M306.0,132.0C310.2,123.8 319.2,95.3 331.0,83.0C342.8,70.7 361.2,63.5 377.0,58.0C392.8,52.5 410.2,49.7 426.0,50.0C441.8,50.3 457.7,55.3 472.0,60.0C486.3,64.7 502.2,70.8 512.0,78.0C521.8,85.2 529.3,94.7 531.0,103.0C532.7,111.3 523.5,123.8 522.0,128.0M522.0,128.0C523.5,130.5 525.3,136.3 531.0,143.0C536.7,149.7 549.7,158.8 556.0,168.0C562.3,177.2 567.3,187.2 569.0,198.0C570.7,208.8 566.8,220.5 566.0,233.0C565.2,245.5 567.3,265.5 564.0,273.0C560.7,280.5 552.2,277.7 546.0,278.0C539.8,278.3 532.7,272.5 527.0,275.0C521.3,277.5 518.0,287.5 512.0,293.0C506.0,298.5 497.0,303.8 491.0,308.0C485.0,312.2 478.5,316.3 476.0,318.0M352.0,118.0C351.0,127.0 343.5,155.3 346.0,172.0C348.5,188.7 357.8,206.2 367.0,218.0C376.2,229.8 391.2,233.8 401.0,243.0C410.8,252.2 419.3,266.3 426.0,273.0C432.7,279.7 438.5,281.3 441.0,283.0M380.0,135.0C382.0,134.5 389.0,129.8 392.0,132.0C395.0,134.2 398.7,143.7 398.0,148.0C397.3,152.3 389.7,156.3 388.0,158.0M461.0,143.0C465.3,138.0 478.5,119.0 487.0,113.0C495.5,107.0 507.8,108.0 512.0,107.0M451.0,172.0C456.0,175.5 478.5,187.0 481.0,193.0C483.5,199.0 468.5,205.5 466.0,208.0M522.0,172.0C523.5,180.5 529.5,208.7 531.0,223.0C532.5,237.3 531.0,252.2 531.0,258.0M436.0,288.0C438.5,300.8 448.5,352.2 451.0,365.0M306.0,132.0C305.2,141.3 310.2,168.7 301.0,188.0C291.8,207.3 267.8,233.5 251.0,248.0C234.2,262.5 216.8,263.0 200.0,275.0C183.2,287.0 164.2,305.0 150.0,320.0C135.8,335.0 124.0,351.7 115.0,365.0C106.0,378.3 105.2,371.3 96.0,400.0C86.8,428.7 67.7,498.8 60.0,537.0C52.3,575.2 48.5,601.5 50.0,629.0C51.5,656.5 62.8,679.0 69.0,702.0C75.2,725.0 85.5,751.7 87.0,767.0C88.5,782.3 75.0,783.3 78.0,794.0C81.0,804.7 91.3,821.8 105.0,831.0C118.7,840.2 150.8,846.0 160.0,849.0M105.0,757.0C109.7,758.7 122.2,759.3 133.0,767.0C143.8,774.7 162.3,790.8 170.0,803.0C177.7,815.2 177.5,833.8 179.0,840.0M133.0,647.0C142.2,633.3 171.2,583.3 188.0,565.0C204.8,546.7 218.7,540.2 234.0,537.0C249.3,533.8 266.3,535.2 280.0,546.0C293.7,556.8 306.2,580.5 316.0,602.0C325.8,623.5 334.3,650.7 339.0,675.0C343.7,699.3 344.7,726.7 344.0,748.0C343.3,769.3 339.7,787.7 335.0,803.0C330.3,818.3 319.2,833.8 316.0,840.0M206.0,721.0C204.5,731.7 199.2,763.7 197.0,785.0C194.8,806.3 193.7,838.3 193.0,849.0M160.0,854.0C173.8,854.3 217.0,856.8 243.0,856.0C269.0,855.2 303.8,850.2 316.0,849.0M326.0,822.0C330.5,817.3 342.3,799.3 353.0,794.0C363.7,788.7 379.3,788.5 390.0,790.0C400.7,791.5 411.0,796.2 417.0,803.0C423.0,809.8 429.0,824.8 426.0,831.0C423.0,837.2 412.7,838.5 399.0,840.0C385.3,841.5 353.2,840.0 344.0,840.0M381.0,757.0C385.5,755.5 397.3,746.3 408.0,748.0C418.7,749.7 434.3,757.8 445.0,767.0C455.7,776.2 466.0,790.8 472.0,803.0C478.0,815.2 479.5,833.8 481.0,840.0M476.0,318.0C475.0,325.0 473.7,346.3 470.0,360.0C466.3,373.7 453.7,378.2 454.0,400.0C454.3,421.8 465.8,460.5 472.0,491.0C478.2,521.5 486.3,552.3 491.0,583.0C495.7,613.7 497.0,647.5 500.0,675.0C503.0,702.5 505.2,726.7 509.0,748.0C512.8,769.3 518.3,790.7 523.0,803.0C527.7,815.3 534.7,818.8 537.0,822.0M523.0,803.0C528.3,801.5 543.5,792.5 555.0,794.0C566.5,795.5 582.8,805.8 592.0,812.0C601.2,818.2 613.2,827.2 610.0,831.0C606.8,834.8 585.2,835.0 573.0,835.0C560.8,835.0 543.0,831.7 537.0,831.0M426.0,519.0C427.7,529.7 432.8,560.0 436.0,583.0C439.2,606.0 442.0,634.0 445.0,657.0C448.0,680.0 451.0,699.7 454.0,721.0C457.0,742.3 460.0,766.7 463.0,785.0C466.0,803.3 470.5,823.3 472.0,831.0M362.0,510.0C365.2,506.8 373.3,497.2 381.0,491.0C388.7,484.8 403.5,476.0 408.0,473.0M371.0,537.0C374.2,547.8 383.8,580.5 390.0,602.0C396.2,623.5 402.0,646.2 408.0,666.0C414.0,685.8 423.0,711.8 426.0,721.0M170.0,436.0C174.5,443.7 189.5,468.2 197.0,482.0C204.5,495.8 212.0,512.8 215.0,519.0M215.0,519.0C221.2,509.8 238.2,480.8 252.0,464.0C265.8,447.2 290.3,425.7 298.0,418.0" class="my2" vector-effect="non-scaling-stroke"/></g>
<g transform="translate(174.54,94.63) scale(0.07409,0.07018)" fill="#222"><circle cx="516" cy="200" r="13"/><circle cx="561" cy="202" r="9"/></g>
<g transform="translate(174.54,94.63) scale(0.07409,0.07018)" fill="none" stroke-linecap="round" stroke-linejoin="round"><path d="M310.0,150.0C313.3,142.5 320.0,118.3 330.0,105.0C340.0,91.7 353.3,79.2 370.0,70.0C386.7,60.8 410.0,53.7 430.0,50.0C450.0,46.3 470.8,44.7 490.0,48.0C509.2,51.3 529.2,59.7 545.0,70.0C560.8,80.3 575.8,95.0 585.0,110.0C594.2,125.0 598.3,142.5 600.0,160.0C601.7,177.5 598.3,197.5 595.0,215.0C591.7,232.5 584.2,250.8 580.0,265.0C575.8,279.2 575.8,291.2 570.0,300.0C564.2,308.8 554.2,315.0 545.0,318.0C535.8,321.0 524.2,320.2 515.0,318.0C505.8,315.8 494.2,307.2 490.0,305.0M340.0,150.0C336.3,154.7 320.0,167.2 318.0,178.0C316.0,188.8 321.0,206.7 328.0,215.0C335.0,223.3 354.7,225.8 360.0,228.0M310.0,150.0C308.3,157.5 299.2,181.7 300.0,195.0C300.8,208.3 306.7,220.0 315.0,230.0C323.3,240.0 337.5,248.0 350.0,255.0C362.5,262.0 383.3,269.2 390.0,272.0M330.0,160.0C333.7,158.3 345.0,149.2 352.0,150.0C359.0,150.8 369.0,157.5 372.0,165.0C375.0,172.5 373.7,188.3 370.0,195.0C366.3,201.7 355.8,205.8 350.0,205.0C344.2,204.2 337.5,192.5 335.0,190.0M300.0,215.0C290.0,216.7 260.0,218.3 240.0,225.0C220.0,231.7 198.3,242.5 180.0,255.0C161.7,267.5 145.0,280.8 130.0,300.0C115.0,319.2 101.7,345.0 90.0,370.0C78.3,395.0 67.0,423.3 60.0,450.0C53.0,476.7 49.3,505.0 48.0,530.0C46.7,555.0 49.2,578.3 52.0,600.0C54.8,621.7 59.5,643.3 65.0,660.0C70.5,676.7 79.2,689.7 85.0,700.0C90.8,710.3 97.5,718.3 100.0,722.0M520.0,320.0C523.3,328.3 537.5,351.7 540.0,370.0C542.5,388.3 540.0,411.7 535.0,430.0C530.0,448.3 519.2,465.0 510.0,480.0C500.8,495.0 489.2,506.7 480.0,520.0C470.8,533.3 461.7,546.7 455.0,560.0C448.3,573.3 444.2,586.7 440.0,600.0C435.8,613.3 431.7,633.3 430.0,640.0M95.0,470.0C102.5,463.3 124.2,440.8 140.0,430.0C155.8,419.2 173.3,410.0 190.0,405.0C206.7,400.0 225.0,397.5 240.0,400.0C255.0,402.5 269.2,410.0 280.0,420.0C290.8,430.0 298.3,443.3 305.0,460.0C311.7,476.7 317.5,500.0 320.0,520.0C322.5,540.0 321.7,560.0 320.0,580.0C318.3,600.0 311.7,630.0 310.0,640.0M100.0,650.0C108.3,655.0 128.3,673.3 150.0,680.0C171.7,686.7 203.3,689.2 230.0,690.0C256.7,690.8 285.0,686.7 310.0,685.0C335.0,683.3 360.0,682.2 380.0,680.0C400.0,677.8 419.2,676.2 430.0,672.0C440.8,667.8 446.7,660.3 445.0,655.0C443.3,649.7 430.8,642.5 420.0,640.0C409.2,637.5 386.7,640.0 380.0,640.0M70.0,640.0C71.7,646.7 75.8,666.7 80.0,680.0C84.2,693.3 92.5,713.3 95.0,720.0M270.0,265.0C275.0,270.8 295.0,294.2 300.0,300.0M285.0,300.0C290.8,305.0 314.2,325.0 320.0,330.0M300.0,330.0C305.0,335.0 325.0,355.0 330.0,360.0M360.0,300.0C363.3,310.0 376.7,350.0 380.0,360.0M390.0,310.0C392.5,321.7 402.5,368.3 405.0,380.0M420.0,330.0C423.3,345.0 436.7,405.0 440.0,420.0M450.0,350.0C451.7,365.0 458.3,425.0 460.0,440.0M180.0,510.0C185.8,517.5 209.2,547.5 215.0,555.0M230.0,560.0C232.5,567.5 242.5,597.5 245.0,605.0M270.0,540.0C271.7,553.3 278.3,606.7 280.0,620.0M355.0,540.0C357.5,551.7 367.5,598.3 370.0,610.0M400.0,520.0C399.2,533.3 395.8,586.7 395.0,600.0M430.0,80.0C436.7,79.2 463.3,75.8 470.0,75.0M450.0,105.0C456.7,104.2 483.3,100.8 490.0,100.0M470.0,250.0C473.3,252.0 486.7,260.0 490.0,262.0M505.0,195.0C506.7,193.3 511.2,185.0 515.0,185.0C518.8,185.0 527.2,190.5 528.0,195.0C528.8,199.5 523.3,209.8 520.0,212.0C516.7,214.2 510.5,210.8 508.0,208.0C505.5,205.2 505.5,197.2 505.0,195.0M555.0,195.0C556.3,194.2 560.8,188.8 563.0,190.0C565.2,191.2 568.5,198.7 568.0,202.0C567.5,205.3 562.2,211.2 560.0,210.0C557.8,208.8 555.8,197.5 555.0,195.0M540.0,275.0C542.5,276.7 550.3,284.2 555.0,285.0C559.7,285.8 565.8,280.8 568.0,280.0" class="mj" vector-effect="non-scaling-stroke"/></g>
<g transform="translate(172.50,224.03) scale(0.06866,0.07018)" fill="#5a5000"><circle cx="516" cy="200" r="13"/><circle cx="561" cy="202" r="9"/></g>
<g transform="translate(172.50,224.03) scale(0.06866,0.07018)" fill="none" stroke-linecap="round" stroke-linejoin="round"><path d="M310.0,150.0C313.3,142.5 320.0,118.3 330.0,105.0C340.0,91.7 353.3,79.2 370.0,70.0C386.7,60.8 410.0,53.7 430.0,50.0C450.0,46.3 470.8,44.7 490.0,48.0C509.2,51.3 529.2,59.7 545.0,70.0C560.8,80.3 575.8,95.0 585.0,110.0C594.2,125.0 598.3,142.5 600.0,160.0C601.7,177.5 598.3,197.5 595.0,215.0C591.7,232.5 584.2,250.8 580.0,265.0C575.8,279.2 575.8,291.2 570.0,300.0C564.2,308.8 554.2,315.0 545.0,318.0C535.8,321.0 524.2,320.2 515.0,318.0C505.8,315.8 494.2,307.2 490.0,305.0M340.0,150.0C336.3,154.7 320.0,167.2 318.0,178.0C316.0,188.8 321.0,206.7 328.0,215.0C335.0,223.3 354.7,225.8 360.0,228.0M310.0,150.0C308.3,157.5 299.2,181.7 300.0,195.0C300.8,208.3 306.7,220.0 315.0,230.0C323.3,240.0 337.5,248.0 350.0,255.0C362.5,262.0 383.3,269.2 390.0,272.0M330.0,160.0C333.7,158.3 345.0,149.2 352.0,150.0C359.0,150.8 369.0,157.5 372.0,165.0C375.0,172.5 373.7,188.3 370.0,195.0C366.3,201.7 355.8,205.8 350.0,205.0C344.2,204.2 337.5,192.5 335.0,190.0M300.0,215.0C290.0,216.7 260.0,218.3 240.0,225.0C220.0,231.7 198.3,242.5 180.0,255.0C161.7,267.5 145.0,280.8 130.0,300.0C115.0,319.2 101.7,345.0 90.0,370.0C78.3,395.0 67.0,423.3 60.0,450.0C53.0,476.7 49.3,505.0 48.0,530.0C46.7,555.0 49.2,578.3 52.0,600.0C54.8,621.7 59.5,643.3 65.0,660.0C70.5,676.7 79.2,689.7 85.0,700.0C90.8,710.3 97.5,718.3 100.0,722.0M520.0,320.0C523.3,328.3 537.5,351.7 540.0,370.0C542.5,388.3 540.0,411.7 535.0,430.0C530.0,448.3 519.2,465.0 510.0,480.0C500.8,495.0 489.2,506.7 480.0,520.0C470.8,533.3 461.7,546.7 455.0,560.0C448.3,573.3 444.2,586.7 440.0,600.0C435.8,613.3 431.7,633.3 430.0,640.0M95.0,470.0C102.5,463.3 124.2,440.8 140.0,430.0C155.8,419.2 173.3,410.0 190.0,405.0C206.7,400.0 225.0,397.5 240.0,400.0C255.0,402.5 269.2,410.0 280.0,420.0C290.8,430.0 298.3,443.3 305.0,460.0C311.7,476.7 317.5,500.0 320.0,520.0C322.5,540.0 321.7,560.0 320.0,580.0C318.3,600.0 311.7,630.0 310.0,640.0M100.0,650.0C108.3,655.0 128.3,673.3 150.0,680.0C171.7,686.7 203.3,689.2 230.0,690.0C256.7,690.8 285.0,686.7 310.0,685.0C335.0,683.3 360.0,682.2 380.0,680.0C400.0,677.8 419.2,676.2 430.0,672.0C440.8,667.8 446.7,660.3 445.0,655.0C443.3,649.7 430.8,642.5 420.0,640.0C409.2,637.5 386.7,640.0 380.0,640.0M70.0,640.0C71.7,646.7 75.8,666.7 80.0,680.0C84.2,693.3 92.5,713.3 95.0,720.0M270.0,265.0C275.0,270.8 295.0,294.2 300.0,300.0M285.0,300.0C290.8,305.0 314.2,325.0 320.0,330.0M300.0,330.0C305.0,335.0 325.0,355.0 330.0,360.0M360.0,300.0C363.3,310.0 376.7,350.0 380.0,360.0M390.0,310.0C392.5,321.7 402.5,368.3 405.0,380.0M420.0,330.0C423.3,345.0 436.7,405.0 440.0,420.0M450.0,350.0C451.7,365.0 458.3,425.0 460.0,440.0M180.0,510.0C185.8,517.5 209.2,547.5 215.0,555.0M230.0,560.0C232.5,567.5 242.5,597.5 245.0,605.0M270.0,540.0C271.7,553.3 278.3,606.7 280.0,620.0M355.0,540.0C357.5,551.7 367.5,598.3 370.0,610.0M400.0,520.0C399.2,533.3 395.8,586.7 395.0,600.0M430.0,80.0C436.7,79.2 463.3,75.8 470.0,75.0M450.0,105.0C456.7,104.2 483.3,100.8 490.0,100.0M470.0,250.0C473.3,252.0 486.7,260.0 490.0,262.0M505.0,195.0C506.7,193.3 511.2,185.0 515.0,185.0C518.8,185.0 527.2,190.5 528.0,195.0C528.8,199.5 523.3,209.8 520.0,212.0C516.7,214.2 510.5,210.8 508.0,208.0C505.5,205.2 505.5,197.2 505.0,195.0M555.0,195.0C556.3,194.2 560.8,188.8 563.0,190.0C565.2,191.2 568.5,198.7 568.0,202.0C567.5,205.3 562.2,211.2 560.0,210.0C557.8,208.8 555.8,197.5 555.0,195.0M540.0,275.0C542.5,276.7 550.3,284.2 555.0,285.0C559.7,285.8 565.8,280.8 568.0,280.0" class="myh" vector-effect="non-scaling-stroke"/><path d="M310.0,150.0C313.3,142.5 320.0,118.3 330.0,105.0C340.0,91.7 353.3,79.2 370.0,70.0C386.7,60.8 410.0,53.7 430.0,50.0C450.0,46.3 470.8,44.7 490.0,48.0C509.2,51.3 529.2,59.7 545.0,70.0C560.8,80.3 575.8,95.0 585.0,110.0C594.2,125.0 598.3,142.5 600.0,160.0C601.7,177.5 598.3,197.5 595.0,215.0C591.7,232.5 584.2,250.8 580.0,265.0C575.8,279.2 575.8,291.2 570.0,300.0C564.2,308.8 554.2,315.0 545.0,318.0C535.8,321.0 524.2,320.2 515.0,318.0C505.8,315.8 494.2,307.2 490.0,305.0M340.0,150.0C336.3,154.7 320.0,167.2 318.0,178.0C316.0,188.8 321.0,206.7 328.0,215.0C335.0,223.3 354.7,225.8 360.0,228.0M310.0,150.0C308.3,157.5 299.2,181.7 300.0,195.0C300.8,208.3 306.7,220.0 315.0,230.0C323.3,240.0 337.5,248.0 350.0,255.0C362.5,262.0 383.3,269.2 390.0,272.0M330.0,160.0C333.7,158.3 345.0,149.2 352.0,150.0C359.0,150.8 369.0,157.5 372.0,165.0C375.0,172.5 373.7,188.3 370.0,195.0C366.3,201.7 355.8,205.8 350.0,205.0C344.2,204.2 337.5,192.5 335.0,190.0M300.0,215.0C290.0,216.7 260.0,218.3 240.0,225.0C220.0,231.7 198.3,242.5 180.0,255.0C161.7,267.5 145.0,280.8 130.0,300.0C115.0,319.2 101.7,345.0 90.0,370.0C78.3,395.0 67.0,423.3 60.0,450.0C53.0,476.7 49.3,505.0 48.0,530.0C46.7,555.0 49.2,578.3 52.0,600.0C54.8,621.7 59.5,643.3 65.0,660.0C70.5,676.7 79.2,689.7 85.0,700.0C90.8,710.3 97.5,718.3 100.0,722.0M520.0,320.0C523.3,328.3 537.5,351.7 540.0,370.0C542.5,388.3 540.0,411.7 535.0,430.0C530.0,448.3 519.2,465.0 510.0,480.0C500.8,495.0 489.2,506.7 480.0,520.0C470.8,533.3 461.7,546.7 455.0,560.0C448.3,573.3 444.2,586.7 440.0,600.0C435.8,613.3 431.7,633.3 430.0,640.0M95.0,470.0C102.5,463.3 124.2,440.8 140.0,430.0C155.8,419.2 173.3,410.0 190.0,405.0C206.7,400.0 225.0,397.5 240.0,400.0C255.0,402.5 269.2,410.0 280.0,420.0C290.8,430.0 298.3,443.3 305.0,460.0C311.7,476.7 317.5,500.0 320.0,520.0C322.5,540.0 321.7,560.0 320.0,580.0C318.3,600.0 311.7,630.0 310.0,640.0M100.0,650.0C108.3,655.0 128.3,673.3 150.0,680.0C171.7,686.7 203.3,689.2 230.0,690.0C256.7,690.8 285.0,686.7 310.0,685.0C335.0,683.3 360.0,682.2 380.0,680.0C400.0,677.8 419.2,676.2 430.0,672.0C440.8,667.8 446.7,660.3 445.0,655.0C443.3,649.7 430.8,642.5 420.0,640.0C409.2,637.5 386.7,640.0 380.0,640.0M70.0,640.0C71.7,646.7 75.8,666.7 80.0,680.0C84.2,693.3 92.5,713.3 95.0,720.0M270.0,265.0C275.0,270.8 295.0,294.2 300.0,300.0M285.0,300.0C290.8,305.0 314.2,325.0 320.0,330.0M300.0,330.0C305.0,335.0 325.0,355.0 330.0,360.0M360.0,300.0C363.3,310.0 376.7,350.0 380.0,360.0M390.0,310.0C392.5,321.7 402.5,368.3 405.0,380.0M420.0,330.0C423.3,345.0 436.7,405.0 440.0,420.0M450.0,350.0C451.7,365.0 458.3,425.0 460.0,440.0M180.0,510.0C185.8,517.5 209.2,547.5 215.0,555.0M230.0,560.0C232.5,567.5 242.5,597.5 245.0,605.0M270.0,540.0C271.7,553.3 278.3,606.7 280.0,620.0M355.0,540.0C357.5,551.7 367.5,598.3 370.0,610.0M400.0,520.0C399.2,533.3 395.8,586.7 395.0,600.0M430.0,80.0C436.7,79.2 463.3,75.8 470.0,75.0M450.0,105.0C456.7,104.2 483.3,100.8 490.0,100.0M470.0,250.0C473.3,252.0 486.7,260.0 490.0,262.0M505.0,195.0C506.7,193.3 511.2,185.0 515.0,185.0C518.8,185.0 527.2,190.5 528.0,195.0C528.8,199.5 523.3,209.8 520.0,212.0C516.7,214.2 510.5,210.8 508.0,208.0C505.5,205.2 505.5,197.2 505.0,195.0M555.0,195.0C556.3,194.2 560.8,188.8 563.0,190.0C565.2,191.2 568.5,198.7 568.0,202.0C567.5,205.3 562.2,211.2 560.0,210.0C557.8,208.8 555.8,197.5 555.0,195.0M540.0,275.0C542.5,276.7 550.3,284.2 555.0,285.0C559.7,285.8 565.8,280.8 568.0,280.0" class="my" vector-effect="non-scaling-stroke"/></g>
<g transform="translate(170.05,354.60) scale(0.07391,0.07507)" fill="#222"><circle cx="516" cy="200" r="13"/><circle cx="561" cy="202" r="9"/></g>
<g transform="translate(170.05,354.60) scale(0.07391,0.07507)" fill="none" stroke-linecap="round" stroke-linejoin="round"><path d="M310.0,150.0C313.3,142.5 320.0,118.3 330.0,105.0C340.0,91.7 353.3,79.2 370.0,70.0C386.7,60.8 410.0,53.7 430.0,50.0C450.0,46.3 470.8,44.7 490.0,48.0C509.2,51.3 529.2,59.7 545.0,70.0C560.8,80.3 575.8,95.0 585.0,110.0C594.2,125.0 598.3,142.5 600.0,160.0C601.7,177.5 598.3,197.5 595.0,215.0C591.7,232.5 584.2,250.8 580.0,265.0C575.8,279.2 575.8,291.2 570.0,300.0C564.2,308.8 554.2,315.0 545.0,318.0C535.8,321.0 524.2,320.2 515.0,318.0C505.8,315.8 494.2,307.2 490.0,305.0M340.0,150.0C336.3,154.7 320.0,167.2 318.0,178.0C316.0,188.8 321.0,206.7 328.0,215.0C335.0,223.3 354.7,225.8 360.0,228.0M310.0,150.0C308.3,157.5 299.2,181.7 300.0,195.0C300.8,208.3 306.7,220.0 315.0,230.0C323.3,240.0 337.5,248.0 350.0,255.0C362.5,262.0 383.3,269.2 390.0,272.0M330.0,160.0C333.7,158.3 345.0,149.2 352.0,150.0C359.0,150.8 369.0,157.5 372.0,165.0C375.0,172.5 373.7,188.3 370.0,195.0C366.3,201.7 355.8,205.8 350.0,205.0C344.2,204.2 337.5,192.5 335.0,190.0M300.0,215.0C290.0,216.7 260.0,218.3 240.0,225.0C220.0,231.7 198.3,242.5 180.0,255.0C161.7,267.5 145.0,280.8 130.0,300.0C115.0,319.2 101.7,345.0 90.0,370.0C78.3,395.0 67.0,423.3 60.0,450.0C53.0,476.7 49.3,505.0 48.0,530.0C46.7,555.0 49.2,578.3 52.0,600.0C54.8,621.7 59.5,643.3 65.0,660.0C70.5,676.7 79.2,689.7 85.0,700.0C90.8,710.3 97.5,718.3 100.0,722.0M520.0,320.0C523.3,328.3 537.5,351.7 540.0,370.0C542.5,388.3 540.0,411.7 535.0,430.0C530.0,448.3 519.2,465.0 510.0,480.0C500.8,495.0 489.2,506.7 480.0,520.0C470.8,533.3 461.7,546.7 455.0,560.0C448.3,573.3 444.2,586.7 440.0,600.0C435.8,613.3 431.7,633.3 430.0,640.0M95.0,470.0C102.5,463.3 124.2,440.8 140.0,430.0C155.8,419.2 173.3,410.0 190.0,405.0C206.7,400.0 225.0,397.5 240.0,400.0C255.0,402.5 269.2,410.0 280.0,420.0C290.8,430.0 298.3,443.3 305.0,460.0C311.7,476.7 317.5,500.0 320.0,520.0C322.5,540.0 321.7,560.0 320.0,580.0C318.3,600.0 311.7,630.0 310.0,640.0M100.0,650.0C108.3,655.0 128.3,673.3 150.0,680.0C171.7,686.7 203.3,689.2 230.0,690.0C256.7,690.8 285.0,686.7 310.0,685.0C335.0,683.3 360.0,682.2 380.0,680.0C400.0,677.8 419.2,676.2 430.0,672.0C440.8,667.8 446.7,660.3 445.0,655.0C443.3,649.7 430.8,642.5 420.0,640.0C409.2,637.5 386.7,640.0 380.0,640.0M70.0,640.0C71.7,646.7 75.8,666.7 80.0,680.0C84.2,693.3 92.5,713.3 95.0,720.0M270.0,265.0C275.0,270.8 295.0,294.2 300.0,300.0M285.0,300.0C290.8,305.0 314.2,325.0 320.0,330.0M300.0,330.0C305.0,335.0 325.0,355.0 330.0,360.0M360.0,300.0C363.3,310.0 376.7,350.0 380.0,360.0M390.0,310.0C392.5,321.7 402.5,368.3 405.0,380.0M420.0,330.0C423.3,345.0 436.7,405.0 440.0,420.0M450.0,350.0C451.7,365.0 458.3,425.0 460.0,440.0M180.0,510.0C185.8,517.5 209.2,547.5 215.0,555.0M230.0,560.0C232.5,567.5 242.5,597.5 245.0,605.0M270.0,540.0C271.7,553.3 278.3,606.7 280.0,620.0M355.0,540.0C357.5,551.7 367.5,598.3 370.0,610.0M400.0,520.0C399.2,533.3 395.8,586.7 395.0,600.0M430.0,80.0C436.7,79.2 463.3,75.8 470.0,75.0M450.0,105.0C456.7,104.2 483.3,100.8 490.0,100.0M470.0,250.0C473.3,252.0 486.7,260.0 490.0,262.0M505.0,195.0C506.7,193.3 511.2,185.0 515.0,185.0C518.8,185.0 527.2,190.5 528.0,195.0C528.8,199.5 523.3,209.8 520.0,212.0C516.7,214.2 510.5,210.8 508.0,208.0C505.5,205.2 505.5,197.2 505.0,195.0M555.0,195.0C556.3,194.2 560.8,188.8 563.0,190.0C565.2,191.2 568.5,198.7 568.0,202.0C567.5,205.3 562.2,211.2 560.0,210.0C557.8,208.8 555.8,197.5 555.0,195.0M540.0,275.0C542.5,276.7 550.3,284.2 555.0,285.0C559.7,285.8 565.8,280.8 568.0,280.0" class="mj" vector-effect="non-scaling-stroke"/></g>
<g transform="translate(168.99,478.33) scale(0.06902,0.07018)" fill="#5a5000"><circle cx="516" cy="200" r="13"/><circle cx="561" cy="202" r="9"/></g>
<g transform="translate(168.99,478.33) scale(0.06902,0.07018)" fill="none" stroke-linecap="round" stroke-linejoin="round"><path d="M310.0,150.0C313.3,142.5 320.0,118.3 330.0,105.0C340.0,91.7 353.3,79.2 370.0,70.0C386.7,60.8 410.0,53.7 430.0,50.0C450.0,46.3 470.8,44.7 490.0,48.0C509.2,51.3 529.2,59.7 545.0,70.0C560.8,80.3 575.8,95.0 585.0,110.0C594.2,125.0 598.3,142.5 600.0,160.0C601.7,177.5 598.3,197.5 595.0,215.0C591.7,232.5 584.2,250.8 580.0,265.0C575.8,279.2 575.8,291.2 570.0,300.0C564.2,308.8 554.2,315.0 545.0,318.0C535.8,321.0 524.2,320.2 515.0,318.0C505.8,315.8 494.2,307.2 490.0,305.0M340.0,150.0C336.3,154.7 320.0,167.2 318.0,178.0C316.0,188.8 321.0,206.7 328.0,215.0C335.0,223.3 354.7,225.8 360.0,228.0M310.0,150.0C308.3,157.5 299.2,181.7 300.0,195.0C300.8,208.3 306.7,220.0 315.0,230.0C323.3,240.0 337.5,248.0 350.0,255.0C362.5,262.0 383.3,269.2 390.0,272.0M330.0,160.0C333.7,158.3 345.0,149.2 352.0,150.0C359.0,150.8 369.0,157.5 372.0,165.0C375.0,172.5 373.7,188.3 370.0,195.0C366.3,201.7 355.8,205.8 350.0,205.0C344.2,204.2 337.5,192.5 335.0,190.0M300.0,215.0C290.0,216.7 260.0,218.3 240.0,225.0C220.0,231.7 198.3,242.5 180.0,255.0C161.7,267.5 145.0,280.8 130.0,300.0C115.0,319.2 101.7,345.0 90.0,370.0C78.3,395.0 67.0,423.3 60.0,450.0C53.0,476.7 49.3,505.0 48.0,530.0C46.7,555.0 49.2,578.3 52.0,600.0C54.8,621.7 59.5,643.3 65.0,660.0C70.5,676.7 79.2,689.7 85.0,700.0C90.8,710.3 97.5,718.3 100.0,722.0M520.0,320.0C523.3,328.3 537.5,351.7 540.0,370.0C542.5,388.3 540.0,411.7 535.0,430.0C530.0,448.3 519.2,465.0 510.0,480.0C500.8,495.0 489.2,506.7 480.0,520.0C470.8,533.3 461.7,546.7 455.0,560.0C448.3,573.3 444.2,586.7 440.0,600.0C435.8,613.3 431.7,633.3 430.0,640.0M95.0,470.0C102.5,463.3 124.2,440.8 140.0,430.0C155.8,419.2 173.3,410.0 190.0,405.0C206.7,400.0 225.0,397.5 240.0,400.0C255.0,402.5 269.2,410.0 280.0,420.0C290.8,430.0 298.3,443.3 305.0,460.0C311.7,476.7 317.5,500.0 320.0,520.0C322.5,540.0 321.7,560.0 320.0,580.0C318.3,600.0 311.7,630.0 310.0,640.0M100.0,650.0C108.3,655.0 128.3,673.3 150.0,680.0C171.7,686.7 203.3,689.2 230.0,690.0C256.7,690.8 285.0,686.7 310.0,685.0C335.0,683.3 360.0,682.2 380.0,680.0C400.0,677.8 419.2,676.2 430.0,672.0C440.8,667.8 446.7,660.3 445.0,655.0C443.3,649.7 430.8,642.5 420.0,640.0C409.2,637.5 386.7,640.0 380.0,640.0M70.0,640.0C71.7,646.7 75.8,666.7 80.0,680.0C84.2,693.3 92.5,713.3 95.0,720.0M270.0,265.0C275.0,270.8 295.0,294.2 300.0,300.0M285.0,300.0C290.8,305.0 314.2,325.0 320.0,330.0M300.0,330.0C305.0,335.0 325.0,355.0 330.0,360.0M360.0,300.0C363.3,310.0 376.7,350.0 380.0,360.0M390.0,310.0C392.5,321.7 402.5,368.3 405.0,380.0M420.0,330.0C423.3,345.0 436.7,405.0 440.0,420.0M450.0,350.0C451.7,365.0 458.3,425.0 460.0,440.0M180.0,510.0C185.8,517.5 209.2,547.5 215.0,555.0M230.0,560.0C232.5,567.5 242.5,597.5 245.0,605.0M270.0,540.0C271.7,553.3 278.3,606.7 280.0,620.0M355.0,540.0C357.5,551.7 367.5,598.3 370.0,610.0M400.0,520.0C399.2,533.3 395.8,586.7 395.0,600.0M430.0,80.0C436.7,79.2 463.3,75.8 470.0,75.0M450.0,105.0C456.7,104.2 483.3,100.8 490.0,100.0M470.0,250.0C473.3,252.0 486.7,260.0 490.0,262.0M505.0,195.0C506.7,193.3 511.2,185.0 515.0,185.0C518.8,185.0 527.2,190.5 528.0,195.0C528.8,199.5 523.3,209.8 520.0,212.0C516.7,214.2 510.5,210.8 508.0,208.0C505.5,205.2 505.5,197.2 505.0,195.0M555.0,195.0C556.3,194.2 560.8,188.8 563.0,190.0C565.2,191.2 568.5,198.7 568.0,202.0C567.5,205.3 562.2,211.2 560.0,210.0C557.8,208.8 555.8,197.5 555.0,195.0M540.0,275.0C542.5,276.7 550.3,284.2 555.0,285.0C559.7,285.8 565.8,280.8 568.0,280.0" class="myh" vector-effect="non-scaling-stroke"/><path d="M310.0,150.0C313.3,142.5 320.0,118.3 330.0,105.0C340.0,91.7 353.3,79.2 370.0,70.0C386.7,60.8 410.0,53.7 430.0,50.0C450.0,46.3 470.8,44.7 490.0,48.0C509.2,51.3 529.2,59.7 545.0,70.0C560.8,80.3 575.8,95.0 585.0,110.0C594.2,125.0 598.3,142.5 600.0,160.0C601.7,177.5 598.3,197.5 595.0,215.0C591.7,232.5 584.2,250.8 580.0,265.0C575.8,279.2 575.8,291.2 570.0,300.0C564.2,308.8 554.2,315.0 545.0,318.0C535.8,321.0 524.2,320.2 515.0,318.0C505.8,315.8 494.2,307.2 490.0,305.0M340.0,150.0C336.3,154.7 320.0,167.2 318.0,178.0C316.0,188.8 321.0,206.7 328.0,215.0C335.0,223.3 354.7,225.8 360.0,228.0M310.0,150.0C308.3,157.5 299.2,181.7 300.0,195.0C300.8,208.3 306.7,220.0 315.0,230.0C323.3,240.0 337.5,248.0 350.0,255.0C362.5,262.0 383.3,269.2 390.0,272.0M330.0,160.0C333.7,158.3 345.0,149.2 352.0,150.0C359.0,150.8 369.0,157.5 372.0,165.0C375.0,172.5 373.7,188.3 370.0,195.0C366.3,201.7 355.8,205.8 350.0,205.0C344.2,204.2 337.5,192.5 335.0,190.0M300.0,215.0C290.0,216.7 260.0,218.3 240.0,225.0C220.0,231.7 198.3,242.5 180.0,255.0C161.7,267.5 145.0,280.8 130.0,300.0C115.0,319.2 101.7,345.0 90.0,370.0C78.3,395.0 67.0,423.3 60.0,450.0C53.0,476.7 49.3,505.0 48.0,530.0C46.7,555.0 49.2,578.3 52.0,600.0C54.8,621.7 59.5,643.3 65.0,660.0C70.5,676.7 79.2,689.7 85.0,700.0C90.8,710.3 97.5,718.3 100.0,722.0M520.0,320.0C523.3,328.3 537.5,351.7 540.0,370.0C542.5,388.3 540.0,411.7 535.0,430.0C530.0,448.3 519.2,465.0 510.0,480.0C500.8,495.0 489.2,506.7 480.0,520.0C470.8,533.3 461.7,546.7 455.0,560.0C448.3,573.3 444.2,586.7 440.0,600.0C435.8,613.3 431.7,633.3 430.0,640.0M95.0,470.0C102.5,463.3 124.2,440.8 140.0,430.0C155.8,419.2 173.3,410.0 190.0,405.0C206.7,400.0 225.0,397.5 240.0,400.0C255.0,402.5 269.2,410.0 280.0,420.0C290.8,430.0 298.3,443.3 305.0,460.0C311.7,476.7 317.5,500.0 320.0,520.0C322.5,540.0 321.7,560.0 320.0,580.0C318.3,600.0 311.7,630.0 310.0,640.0M100.0,650.0C108.3,655.0 128.3,673.3 150.0,680.0C171.7,686.7 203.3,689.2 230.0,690.0C256.7,690.8 285.0,686.7 310.0,685.0C335.0,683.3 360.0,682.2 380.0,680.0C400.0,677.8 419.2,676.2 430.0,672.0C440.8,667.8 446.7,660.3 445.0,655.0C443.3,649.7 430.8,642.5 420.0,640.0C409.2,637.5 386.7,640.0 380.0,640.0M70.0,640.0C71.7,646.7 75.8,666.7 80.0,680.0C84.2,693.3 92.5,713.3 95.0,720.0M270.0,265.0C275.0,270.8 295.0,294.2 300.0,300.0M285.0,300.0C290.8,305.0 314.2,325.0 320.0,330.0M300.0,330.0C305.0,335.0 325.0,355.0 330.0,360.0M360.0,300.0C363.3,310.0 376.7,350.0 380.0,360.0M390.0,310.0C392.5,321.7 402.5,368.3 405.0,380.0M420.0,330.0C423.3,345.0 436.7,405.0 440.0,420.0M450.0,350.0C451.7,365.0 458.3,425.0 460.0,440.0M180.0,510.0C185.8,517.5 209.2,547.5 215.0,555.0M230.0,560.0C232.5,567.5 242.5,597.5 245.0,605.0M270.0,540.0C271.7,553.3 278.3,606.7 280.0,620.0M355.0,540.0C357.5,551.7 367.5,598.3 370.0,610.0M400.0,520.0C399.2,533.3 395.8,586.7 395.0,600.0M430.0,80.0C436.7,79.2 463.3,75.8 470.0,75.0M450.0,105.0C456.7,104.2 483.3,100.8 490.0,100.0M470.0,250.0C473.3,252.0 486.7,260.0 490.0,262.0M505.0,195.0C506.7,193.3 511.2,185.0 515.0,185.0C518.8,185.0 527.2,190.5 528.0,195.0C528.8,199.5 523.3,209.8 520.0,212.0C516.7,214.2 510.5,210.8 508.0,208.0C505.5,205.2 505.5,197.2 505.0,195.0M555.0,195.0C556.3,194.2 560.8,188.8 563.0,190.0C565.2,191.2 568.5,198.7 568.0,202.0C567.5,205.3 562.2,211.2 560.0,210.0C557.8,208.8 555.8,197.5 555.0,195.0M540.0,275.0C542.5,276.7 550.3,284.2 555.0,285.0C559.7,285.8 565.8,280.8 568.0,280.0" class="my" vector-effect="non-scaling-stroke"/></g>
<g transform="translate(174.36,615.12) scale(0.07373,0.07255)" fill="#222"><circle cx="516" cy="200" r="13"/><circle cx="561" cy="202" r="9"/></g>
<g transform="translate(174.36,615.12) scale(0.07373,0.07255)" fill="none" stroke-linecap="round" stroke-linejoin="round"><path d="M310.0,150.0C313.3,142.5 320.0,118.3 330.0,105.0C340.0,91.7 353.3,79.2 370.0,70.0C386.7,60.8 410.0,53.7 430.0,50.0C450.0,46.3 470.8,44.7 490.0,48.0C509.2,51.3 529.2,59.7 545.0,70.0C560.8,80.3 575.8,95.0 585.0,110.0C594.2,125.0 598.3,142.5 600.0,160.0C601.7,177.5 598.3,197.5 595.0,215.0C591.7,232.5 584.2,250.8 580.0,265.0C575.8,279.2 575.8,291.2 570.0,300.0C564.2,308.8 554.2,315.0 545.0,318.0C535.8,321.0 524.2,320.2 515.0,318.0C505.8,315.8 494.2,307.2 490.0,305.0M340.0,150.0C336.3,154.7 320.0,167.2 318.0,178.0C316.0,188.8 321.0,206.7 328.0,215.0C335.0,223.3 354.7,225.8 360.0,228.0M310.0,150.0C308.3,157.5 299.2,181.7 300.0,195.0C300.8,208.3 306.7,220.0 315.0,230.0C323.3,240.0 337.5,248.0 350.0,255.0C362.5,262.0 383.3,269.2 390.0,272.0M330.0,160.0C333.7,158.3 345.0,149.2 352.0,150.0C359.0,150.8 369.0,157.5 372.0,165.0C375.0,172.5 373.7,188.3 370.0,195.0C366.3,201.7 355.8,205.8 350.0,205.0C344.2,204.2 337.5,192.5 335.0,190.0M300.0,215.0C290.0,216.7 260.0,218.3 240.0,225.0C220.0,231.7 198.3,242.5 180.0,255.0C161.7,267.5 145.0,280.8 130.0,300.0C115.0,319.2 101.7,345.0 90.0,370.0C78.3,395.0 67.0,423.3 60.0,450.0C53.0,476.7 49.3,505.0 48.0,530.0C46.7,555.0 49.2,578.3 52.0,600.0C54.8,621.7 59.5,643.3 65.0,660.0C70.5,676.7 79.2,689.7 85.0,700.0C90.8,710.3 97.5,718.3 100.0,722.0M520.0,320.0C523.3,328.3 537.5,351.7 540.0,370.0C542.5,388.3 540.0,411.7 535.0,430.0C530.0,448.3 519.2,465.0 510.0,480.0C500.8,495.0 489.2,506.7 480.0,520.0C470.8,533.3 461.7,546.7 455.0,560.0C448.3,573.3 444.2,586.7 440.0,600.0C435.8,613.3 431.7,633.3 430.0,640.0M95.0,470.0C102.5,463.3 124.2,440.8 140.0,430.0C155.8,419.2 173.3,410.0 190.0,405.0C206.7,400.0 225.0,397.5 240.0,400.0C255.0,402.5 269.2,410.0 280.0,420.0C290.8,430.0 298.3,443.3 305.0,460.0C311.7,476.7 317.5,500.0 320.0,520.0C322.5,540.0 321.7,560.0 320.0,580.0C318.3,600.0 311.7,630.0 310.0,640.0M100.0,650.0C108.3,655.0 128.3,673.3 150.0,680.0C171.7,686.7 203.3,689.2 230.0,690.0C256.7,690.8 285.0,686.7 310.0,685.0C335.0,683.3 360.0,682.2 380.0,680.0C400.0,677.8 419.2,676.2 430.0,672.0C440.8,667.8 446.7,660.3 445.0,655.0C443.3,649.7 430.8,642.5 420.0,640.0C409.2,637.5 386.7,640.0 380.0,640.0M70.0,640.0C71.7,646.7 75.8,666.7 80.0,680.0C84.2,693.3 92.5,713.3 95.0,720.0M270.0,265.0C275.0,270.8 295.0,294.2 300.0,300.0M285.0,300.0C290.8,305.0 314.2,325.0 320.0,330.0M300.0,330.0C305.0,335.0 325.0,355.0 330.0,360.0M360.0,300.0C363.3,310.0 376.7,350.0 380.0,360.0M390.0,310.0C392.5,321.7 402.5,368.3 405.0,380.0M420.0,330.0C423.3,345.0 436.7,405.0 440.0,420.0M450.0,350.0C451.7,365.0 458.3,425.0 460.0,440.0M180.0,510.0C185.8,517.5 209.2,547.5 215.0,555.0M230.0,560.0C232.5,567.5 242.5,597.5 245.0,605.0M270.0,540.0C271.7,553.3 278.3,606.7 280.0,620.0M355.0,540.0C357.5,551.7 367.5,598.3 370.0,610.0M400.0,520.0C399.2,533.3 395.8,586.7 395.0,600.0M430.0,80.0C436.7,79.2 463.3,75.8 470.0,75.0M450.0,105.0C456.7,104.2 483.3,100.8 490.0,100.0M470.0,250.0C473.3,252.0 486.7,260.0 490.0,262.0M505.0,195.0C506.7,193.3 511.2,185.0 515.0,185.0C518.8,185.0 527.2,190.5 528.0,195.0C528.8,199.5 523.3,209.8 520.0,212.0C516.7,214.2 510.5,210.8 508.0,208.0C505.5,205.2 505.5,197.2 505.0,195.0M555.0,195.0C556.3,194.2 560.8,188.8 563.0,190.0C565.2,191.2 568.5,198.7 568.0,202.0C567.5,205.3 562.2,211.2 560.0,210.0C557.8,208.8 555.8,197.5 555.0,195.0M540.0,275.0C542.5,276.7 550.3,284.2 555.0,285.0C559.7,285.8 565.8,280.8 568.0,280.0" class="mj" vector-effect="non-scaling-stroke"/></g>
<text x="291.40" y="34.80" font-family="Liberation Sans" font-weight="bold" font-style="normal" font-size="30.5" fill="#000" >B</text>
<text x="325.60" y="28.90" font-family="Liberation Sans" font-weight="normal" font-style="normal" font-size="27.4" fill="#000" >Experimental Groups by Sex</text>
<rect x="325.30" y="32.10" width="349.30" height="1.90" fill="#000" />
<clipPath id="c55"><rect x="377" y="38.8" width="28" height="27.0"/></clipPath>
<path clip-path="url(#c55)" d="M320.20,67.80L351.20,36.80M335.40,67.80L366.40,36.80M350.60,67.80L381.60,36.80M365.80,67.80L396.80,36.80M381.00,67.80L412.00,36.80M396.20,67.80L427.20,36.80M411.40,67.80L442.40,36.80" stroke="#000" stroke-width="4.1" fill="none"/>
<text x="415.20" y="59.50" font-family="Liberation Sans" font-weight="normal" font-style="normal" font-size="25.0" fill="#000" >Males</text>
<rect x="504.70" y="37.00" width="27.30" height="26.40" fill="#000" />
<text x="546.00" y="60.00" font-family="Liberation Sans" font-weight="normal" font-style="normal" font-size="25.2" fill="#000" >Females</text>
<rect x="302.30" y="96.80" width="376.70" height="1.80" fill="#000" />
<rect x="302.30" y="136.00" width="376.70" height="1.80" fill="#000" />
<rect x="302.30" y="175.10" width="376.70" height="1.80" fill="#000" />
<rect x="302.30" y="214.70" width="376.70" height="1.80" fill="#000" />
<rect x="302.30" y="253.80" width="376.70" height="1.80" fill="#000" />
<rect x="302.30" y="292.80" width="376.70" height="1.80" fill="#000" />
<rect x="316.20" y="95.20" width="58.00" height="199.40" fill="#fff" />
<clipPath id="c67"><rect x="316.2" y="95.2" width="58.0" height="79.10000000000001"/></clipPath>
<path clip-path="url(#c67)" d="M211.15,176.30L294.25,93.20M226.10,176.30L309.20,93.20M241.05,176.30L324.15,93.20M256.00,176.30L339.10,93.20M270.95,176.30L354.05,93.20M285.90,176.30L369.00,93.20M300.85,176.30L383.95,93.20M315.80,176.30L398.90,93.20M330.75,176.30L413.85,93.20M345.70,176.30L428.80,93.20M360.65,176.30L443.75,93.20M375.60,176.30L458.70,93.20" stroke="#AA3377" stroke-width="3.7" fill="none"/>
<rect x="316.20" y="95.20" width="58.00" height="3.10" fill="#AA3377" />
<rect x="316.20" y="95.20" width="3.20" height="79.10" fill="#AA3377" />
<rect x="370.00" y="95.20" width="4.20" height="79.10" fill="#AA3377" />
<rect x="316.20" y="174.30" width="58.00" height="120.30" fill="#AA3377" />
<rect x="389.20" y="193.30" width="56.60" height="101.30" fill="#fff" />
<clipPath id="c74"><rect x="389.2" y="193.3" width="56.60000000000002" height="61.0"/></clipPath>
<path clip-path="url(#c74)" d="M308.85,256.30L373.85,191.30M323.80,256.30L388.80,191.30M338.75,256.30L403.75,191.30M353.70,256.30L418.70,191.30M368.65,256.30L433.65,191.30M383.60,256.30L448.60,191.30M398.55,256.30L463.55,191.30M413.50,256.30L478.50,191.30M428.45,256.30L493.45,191.30M443.40,256.30L508.40,191.30M458.35,256.30L523.35,191.30" stroke="#EE6677" stroke-width="3.7" fill="none"/>
<rect x="389.20" y="193.30" width="56.60" height="3.10" fill="#EE6677" />
<rect x="389.20" y="193.30" width="3.20" height="61.00" fill="#EE6677" />
<rect x="441.60" y="193.30" width="4.20" height="61.00" fill="#EE6677" />
<rect x="389.20" y="254.30" width="56.60" height="40.30" fill="#EE6677" />
<rect x="464.10" y="93.70" width="57.80" height="200.90" fill="#fff" />
<clipPath id="c81"><rect x="464.1" y="93.7" width="57.799999999999955" height="136.10000000000002"/></clipPath>
<path clip-path="url(#c81)" d="M306.35,231.80L446.45,91.70M321.30,231.80L461.40,91.70M336.25,231.80L476.35,91.70M351.20,231.80L491.30,91.70M366.15,231.80L506.25,91.70M381.10,231.80L521.20,91.70M396.05,231.80L536.15,91.70M411.00,231.80L551.10,91.70M425.95,231.80L566.05,91.70M440.90,231.80L581.00,91.70M455.85,231.80L595.95,91.70M470.80,231.80L610.90,91.70M485.75,231.80L625.85,91.70M500.70,231.80L640.80,91.70M515.65,231.80L655.75,91.70M530.60,231.80L670.70,91.70" stroke="#66CCEE" stroke-width="3.7" fill="none"/>
<rect x="464.10" y="93.70" width="57.80" height="3.10" fill="#66CCEE" />
<rect x="464.10" y="93.70" width="3.20" height="136.10" fill="#66CCEE" />
<rect x="517.70" y="93.70" width="4.20" height="136.10" fill="#66CCEE" />
<rect x="464.10" y="229.80" width="57.80" height="64.80" fill="#66CCEE" />
<rect x="536.00" y="135.10" width="57.70" height="159.50" fill="#fff" />
<clipPath id="c88"><rect x="536.0" y="135.1" width="57.700000000000045" height="55.20000000000002"/></clipPath>
<path clip-path="url(#c88)" d="M450.05,192.30L509.25,133.10M465.00,192.30L524.20,133.10M479.95,192.30L539.15,133.10M494.90,192.30L554.10,133.10M509.85,192.30L569.05,133.10M524.80,192.30L584.00,133.10M539.75,192.30L598.95,133.10M554.70,192.30L613.90,133.10M569.65,192.30L628.85,133.10M584.60,192.30L643.80,133.10M599.55,192.30L658.75,133.10" stroke="#228833" stroke-width="3.7" fill="none"/>
<rect x="536.00" y="135.10" width="57.70" height="3.10" fill="#228833" />
<rect x="536.00" y="135.10" width="3.20" height="55.20" fill="#228833" />
<rect x="589.50" y="135.10" width="4.20" height="55.20" fill="#228833" />
<rect x="536.00" y="190.30" width="57.70" height="104.30" fill="#228833" />
<rect x="608.00" y="153.20" width="58.00" height="141.40" fill="#fff" />
<clipPath id="c95"><rect x="608.0" y="153.2" width="58.0" height="42.10000000000002"/></clipPath>
<path clip-path="url(#c95)" d="M535.15,197.30L581.25,151.20M550.10,197.30L596.20,151.20M565.05,197.30L611.15,151.20M580.00,197.30L626.10,151.20M594.95,197.30L641.05,151.20M609.90,197.30L656.00,151.20M624.85,197.30L670.95,151.20M639.80,197.30L685.90,151.20M654.75,197.30L700.85,151.20M669.70,197.30L715.80,151.20" stroke="#4477AA" stroke-width="3.7" fill="none"/>
<rect x="608.00" y="153.20" width="58.00" height="3.10" fill="#4477AA" />
<rect x="608.00" y="153.20" width="3.20" height="42.10" fill="#4477AA" />
<rect x="661.80" y="153.20" width="4.20" height="42.10" fill="#4477AA" />
<rect x="608.00" y="195.30" width="58.00" height="99.30" fill="#4477AA" />
<text transform="translate(271.36,105.90) scale(0.9217,1)" font-family="Liberation Sans" font-weight="normal" font-style="normal" font-size="23" fill="#000" >10</text>
<text x="281.40" y="145.10" font-family="Liberation Sans" font-weight="normal" font-style="normal" font-size="23" fill="#000" >8</text>
<text x="281.40" y="184.20" font-family="Liberation Sans" font-weight="normal" font-style="normal" font-size="23" fill="#000" >6</text>
<text x="281.40" y="223.80" font-family="Liberation Sans" font-weight="normal" font-style="normal" font-size="23" fill="#000" >4</text>
<text x="281.40" y="262.90" font-family="Liberation Sans" font-weight="normal" font-style="normal" font-size="23" fill="#000" >2</text>
<text x="287.50" y="297.80" font-family="Liberation Sans" font-weight="normal" font-style="normal" font-size="23" fill="#000" >0</text>
<text transform="translate(271.20,273.60) rotate(-90) scale(0.9944,1.0000)" font-family="Liberation Sans" font-weight="normal" font-style="normal" font-size="25.0" fill="#000"># of offspring</text>
<text transform="translate(355.00,292.78) rotate(-90) scale(0.9848,1.0700)" font-family="Liberation Sans" font-weight="bold" font-style="normal" font-size="24.3" fill="#000">Group 1</text>
<text transform="translate(424.90,292.33) rotate(-90) scale(1.0297,1.0700)" font-family="Liberation Sans" font-weight="bold" font-style="normal" font-size="24.3" fill="#000">Group 2</text>
<text transform="translate(499.90,291.82) rotate(-90) scale(1.0242,1.0700)" font-family="Liberation Sans" font-weight="bold" font-style="normal" font-size="24.3" fill="#000">Group 3</text>
<text transform="translate(574.50,293.62) rotate(-90) scale(1.0207,1.0700)" font-family="Liberation Sans" font-weight="bold" font-style="normal" font-size="24.3" fill="#000">Group 4</text>
<text transform="translate(646.50,293.31) rotate(-90) scale(1.0130,1.0700)" font-family="Liberation Sans" font-weight="bold" font-style="normal" font-size="24.3" fill="#000">Group 5</text>
<text x="271.90" y="328.40" font-family="Liberation Sans" font-weight="bold" font-style="normal" font-size="30.5" fill="#000" >C</text>
<text x="342.80" y="324.20" font-family="Liberation Sans" font-weight="normal" font-style="normal" font-size="28.0" fill="#000" >Hypothesis Tests</text>
<rect x="343.60" y="327.50" width="211.40" height="2.00" fill="#000" />
<text x="301.40" y="366.20" font-family="Liberation Sans" font-weight="normal" font-style="normal" font-size="24.8" fill="#000" >Impact of Post-Weaning Diet</text>
<rect x="301.00" y="369.40" width="317.00" height="1.90" fill="#000" />
<text x="330.70" y="509.20" font-family="Liberation Sans" font-weight="normal" font-style="normal" font-size="25.0" fill="#000" >Impact of Maternal Diet</text>
<rect x="331.00" y="512.20" width="258.00" height="2.00" fill="#000" />
<text x="311.80" y="661.50" font-family="Liberation Sans" font-weight="normal" font-style="normal" font-size="24.8" fill="#000" >Impact of Maternal Obesity</text>
<rect x="312.30" y="664.50" width="297.20" height="2.00" fill="#000" />
<rect x="297.00" y="389.50" width="135.60" height="27.70" fill="#B14787" stroke="#A2286F" stroke-width="1.6"/>
<text x="320.00" y="412.30" font-family="Liberation Sans" font-weight="normal" font-style="normal" font-size="24.6" fill="#fff" >Group 1</text>
<rect x="476.60" y="390.10" width="136.00" height="27.10" fill="#F28C98" stroke="#E8697A" stroke-width="1.6"/>
<text x="499.00" y="412.20" font-family="Liberation Sans" font-weight="normal" font-style="normal" font-size="24.6" fill="#fff" >Group 2</text>
<rect x="294.50" y="440.80" width="135.70" height="27.20" fill="#76CEEE" stroke="#6ACAEE" stroke-width="1.6"/>
<text x="317.50" y="463.00" font-family="Liberation Sans" font-weight="normal" font-style="normal" font-size="24.6" fill="#fff" >Group 3</text>
<rect x="474.60" y="440.70" width="136.60" height="27.00" fill="#3A8E4B" stroke="#2A7E3A" stroke-width="1.6"/>
<text x="497.60" y="463.20" font-family="Liberation Sans" font-weight="normal" font-style="normal" font-size="24.6" fill="#fff" >Group 4</text>
<rect x="299.00" y="530.80" width="136.20" height="27.40" fill="#B14787" stroke="#A2286F" stroke-width="1.6"/>
<text x="322.50" y="552.40" font-family="Liberation Sans" font-weight="normal" font-style="normal" font-size="24.6" fill="#fff" >Group 1</text>
<rect x="474.00" y="530.40" width="136.20" height="27.60" fill="#76CEEE" stroke="#6ACAEE" stroke-width="1.6"/>
<text x="497.60" y="552.20" font-family="Liberation Sans" font-weight="normal" font-style="normal" font-size="24.6" fill="#fff" >Group 3</text>
<rect x="297.80" y="582.00" width="135.80" height="27.40" fill="#F28C98" stroke="#E8697A" stroke-width="1.6"/>
<text x="320.80" y="603.50" font-family="Liberation Sans" font-weight="normal" font-style="normal" font-size="24.6" fill="#fff" >Group 2</text>
<rect x="474.00" y="581.50" width="135.30" height="27.00" fill="#3A8E4B" stroke="#2A7E3A" stroke-width="1.6"/>
<text x="497.60" y="603.20" font-family="Liberation Sans" font-weight="normal" font-style="normal" font-size="24.6" fill="#fff" >Group 4</text>
<rect x="297.10" y="674.00" width="135.60" height="27.60" fill="#76CEEE" stroke="#6ACAEE" stroke-width="1.6"/>
<text x="319.20" y="696.60" font-family="Liberation Sans" font-weight="normal" font-style="normal" font-size="24.6" fill="#fff" >Group 3</text>
<rect x="472.30" y="671.20" width="135.40" height="27.00" fill="#5782B3" stroke="#4674A8" stroke-width="1.6"/>
<text x="495.00" y="693.00" font-family="Liberation Sans" font-weight="normal" font-style="normal" font-size="24.6" fill="#fff" >Group 5</text>
<text x="440.90" y="409.90" font-family="Liberation Sans" font-weight="normal" font-style="normal" font-size="24.0" fill="#000" >vs</text>
<text x="440.90" y="459.10" font-family="Liberation Sans" font-weight="normal" font-style="normal" font-size="24.0" fill="#000" >vs</text>
<text x="445.20" y="551.80" font-family="Liberation Sans" font-weight="normal" font-style="normal" font-size="24.0" fill="#000" >vs</text>
<text x="442.30" y="602.30" font-family="Liberation Sans" font-weight="normal" font-style="normal" font-size="24.0" fill="#000" >vs</text>
<text x="440.00" y="694.20" font-family="Liberation Sans" font-weight="normal" font-style="normal" font-size="24.0" fill="#000" >vs</text>
<text x="336.60" y="725.80" font-family="Liberation Sans" font-weight="normal" font-style="normal" font-size="25.2" fill="#000" >Lean</text>
<text x="505.00" y="723.60" font-family="Liberation Sans" font-weight="normal" font-style="normal" font-size="25.0" fill="#000" >Obese</text>
<text x="283.00" y="755.00" font-family="Liberation Sans" font-weight="normal" font-style="normal" font-size="24.8" fill="#000" >Avg Fat = 16%</text>
<text x="473.00" y="753.20" font-family="Liberation Sans" font-weight="normal" font-style="normal" font-size="24.6" fill="#000" >Avg Fat = 34%</text>
<text x="12.90" y="798.80" font-family="Liberation Sans" font-weight="bold" font-style="normal" font-size="30.5" fill="#000" >D</text>
<text x="122.90" y="798.00" font-family="Liberation Sans" font-weight="normal" font-style="normal" font-size="27.6" fill="#000" >Principal component analysis (PCA)</text>
<rect x="122.70" y="801.30" width="439.30" height="2.00" fill="#000" />
<text x="119.00" y="837.4" font-family="Liberation Sans" font-size="24.8">PC1 correlated with Group <tspan font-style="italic">(P</tspan> &lt;0.00001)</text>
<rect x="102.4" y="846.4" width="553" height="161.6" fill="none" stroke="#333" stroke-width="1.3"/>
<line x1="93" y1="847.7" x2="102.4" y2="847.7" stroke="#333" stroke-width="1.3"/>
<line x1="93" y1="877.9" x2="102.4" y2="877.9" stroke="#333" stroke-width="1.3"/>
<line x1="93" y1="908.3" x2="102.4" y2="908.3" stroke="#333" stroke-width="1.3"/>
<line x1="93" y1="938.6" x2="102.4" y2="938.6" stroke="#333" stroke-width="1.3"/>
<line x1="93" y1="968.4" x2="102.4" y2="968.4" stroke="#333" stroke-width="1.3"/>
<line x1="93" y1="998.4" x2="102.4" y2="998.4" stroke="#333" stroke-width="1.3"/>
<line x1="124.1" y1="1008" x2="124.1" y2="1016.5" stroke="#333" stroke-width="1.3"/>
<line x1="218.9" y1="1008" x2="218.9" y2="1016.5" stroke="#333" stroke-width="1.3"/>
<line x1="314.4" y1="1008" x2="314.4" y2="1016.5" stroke="#333" stroke-width="1.3"/>
<line x1="409.3" y1="1008" x2="409.3" y2="1016.5" stroke="#333" stroke-width="1.3"/>
<line x1="505.3" y1="1008" x2="505.3" y2="1016.5" stroke="#333" stroke-width="1.3"/>
<line x1="601.3" y1="1008" x2="601.3" y2="1016.5" stroke="#333" stroke-width="1.3"/>
<rect x="113.32" y="1036.00" width="5.20" height="1.30" fill="#000" />
<text transform="translate(116.86,1041.1) scale(1.06,1)" font-family="Liberation Sans" font-weight="bold" font-size="15.6">20</text>
<rect x="208.12" y="1036.00" width="5.20" height="1.30" fill="#000" />
<text transform="translate(211.66,1041.1) scale(1.06,1)" font-family="Liberation Sans" font-weight="bold" font-size="15.6">10</text>
<text transform="translate(309.63,1041.1) scale(1.06,1)" font-family="Liberation Sans" font-weight="bold" font-size="15.6">0</text>
<text transform="translate(399.76,1041.1) scale(1.06,1)" font-family="Liberation Sans" font-weight="bold" font-size="15.6">10</text>
<text transform="translate(495.76,1041.1) scale(1.06,1)" font-family="Liberation Sans" font-weight="bold" font-size="15.6">20</text>
<text transform="translate(591.76,1041.1) scale(1.06,1)" font-family="Liberation Sans" font-weight="bold" font-size="15.6">30</text>
<text transform="translate(81.6,856.20) rotate(-90) scale(1,1.26)" font-family="Liberation Sans" font-weight="bold" font-size="14.6">30</text>
<text transform="translate(81.6,886.40) rotate(-90) scale(1,1.26)" font-family="Liberation Sans" font-weight="bold" font-size="14.6">20</text>
<text transform="translate(81.6,916.80) rotate(-90) scale(1,1.26)" font-family="Liberation Sans" font-weight="bold" font-size="14.6">10</text>
<text transform="translate(81.6,943.10) rotate(-90) scale(1,1.26)" font-family="Liberation Sans" font-weight="bold" font-size="14.6">0</text>
<rect x="75.20" y="1003.75" width="2.10" height="4.30" fill="#000" />
<text transform="translate(81.6,1004.75) rotate(-90) scale(1,1.26)" font-family="Liberation Sans" font-weight="bold" font-size="14.6">20</text>
<text transform="translate(35.20,1024.20) rotate(-90) scale(1.0015,1.0000)" font-family="Liberation Sans" font-weight="normal" font-style="normal" font-size="25.2" fill="#000">PC2: 8% Variance</text>
<text x="252.00" y="1057.10" font-family="Liberation Sans" font-weight="normal" font-style="normal" font-size="25.2" fill="#000" >PC1: 27% Variance</text>
<text x="523.70" y="1074.50" font-family="Liberation Sans" font-weight="normal" font-style="normal" font-size="24.8" fill="#000" >10,252 genes</text>
<path d="M19.6,1053.9 L31,1076.5 L8.3,1076.5 Z" fill="#000"/>
<text x="36.70" y="1075.80" font-family="Liberation Sans" font-weight="normal" font-style="normal" font-size="25.2" fill="#000" >male</text>
<circle cx="128" cy="1069" r="12" fill="#000"/>
<text x="143.80" y="1075.50" font-family="Liberation Sans" font-weight="normal" font-style="normal" font-size="24.4" fill="#000" >female</text>
<clipPath id="plotclip"><rect x="102.4" y="846.4" width="553" height="161.6"/></clipPath><g clip-path="url(#plotclip)">
<path d="M197.2,939.2 L205.8,954.3 L188.6,954.3 Z" fill="#8EEEF8"/>
<path d="M214.6,942.7 L223.2,957.7 L206.0,957.7 Z" fill="#8EEEF8"/>
<path d="M223.5,949.3 L232.1,963.4 L214.9,963.4 Z" fill="#F08080"/>
<circle cx="188.8" cy="933.8" r="6.7" fill="#228B22"/>
<path d="M123.1,949.3 L131.7,964.2 L114.5,964.2 Z" fill="#F08080"/>
<path d="M152.1,944.9 L160.7,959.7 L143.5,959.7 Z" fill="#8EEEF8"/>
<path d="M171.7,942.6 L180.3,957.9 L163.1,957.9 Z" fill="#8EEEF8"/>
<path d="M211.4,891.2 L220.0,906.2 L202.8,906.2 Z" fill="#8EEEF8"/>
<path d="M223.5,863.1 L232.1,878.3 L214.9,878.3 Z" fill="#8EEEF8"/>
<path d="M251.1,968.5 L259.7,983.8 L242.5,983.8 Z" fill="#8EEEF8"/>
<path d="M447.3,899.3 L455.9,914.5 L438.7,914.5 Z" fill="#F08080"/>
<circle cx="161.8" cy="918.3" r="6.7" fill="#228B22"/>
<circle cx="150.7" cy="920.1" r="6.7" fill="#4682B4"/>
<circle cx="163.0" cy="928.7" r="6.7" fill="#4682B4"/>
<circle cx="158.9" cy="940.8" r="6.7" fill="#228B22"/>
<circle cx="182.1" cy="957.1" r="6.7" fill="#228B22"/>
<circle cx="168.6" cy="971.2" r="6.7" fill="#4682B4"/>
<circle cx="196.9" cy="954.4" r="6.7" fill="#4682B4"/>
<path d="M186.8,931.0 L195.4,945.8 L178.2,945.8 Z" fill="#4682B4"/>
<path d="M209.2,901.8 L217.8,917.2 L200.6,917.2 Z" fill="#228B22"/>
<path d="M231.1,937.9 L239.7,952.5 L222.5,952.5 Z" fill="#228B22"/>
<path d="M564.7,913.0 L573.3,927.6 L556.1,927.6 Z" fill="#228B22"/>
<path d="M255.6,946.4 L264.2,961.5 L247.0,961.5 Z" fill="#8B1A60"/>
<path d="M450.8,938.4 L459.4,953.3 L442.2,953.3 Z" fill="#8B1A60"/>
<path d="M610.7,925.5 L619.3,939.8 L602.1,939.8 Z" fill="#8B1A60"/>
<path d="M630.0,926.5 L638.6,940.7 L621.4,940.7 Z" fill="#8B1A60"/>
<circle cx="165.7" cy="1001.9" r="6.7" fill="#8EEEF8"/>
<circle cx="326.7" cy="934.9" r="6.7" fill="#8EEEF8"/>
<circle cx="501.9" cy="852.3" r="6.7" fill="#8EEEF8"/>
<circle cx="248.6" cy="876.7" r="6.7" fill="#F08080"/>
<circle cx="340.7" cy="892.6" r="6.7" fill="#F08080"/>
<circle cx="544.8" cy="946" r="6.7" fill="#8B1A60"/>
<circle cx="576.4" cy="959.1" r="6.7" fill="#8B1A60"/>
<circle cx="634.4" cy="922" r="6.7" fill="#8B1A60"/>
<circle cx="628.8" cy="963.8" r="6.7" fill="#8B1A60"/>
<circle cx="610.5" cy="974.8" r="6.7" fill="#8B1A60"/>
<circle cx="607.8" cy="992.1" r="6.7" fill="#8B1A60"/>
</g>
<rect x="102.4" y="846.4" width="553" height="161.6" fill="none" stroke="#333" stroke-width="1.3"/>
</svg></body></html>
